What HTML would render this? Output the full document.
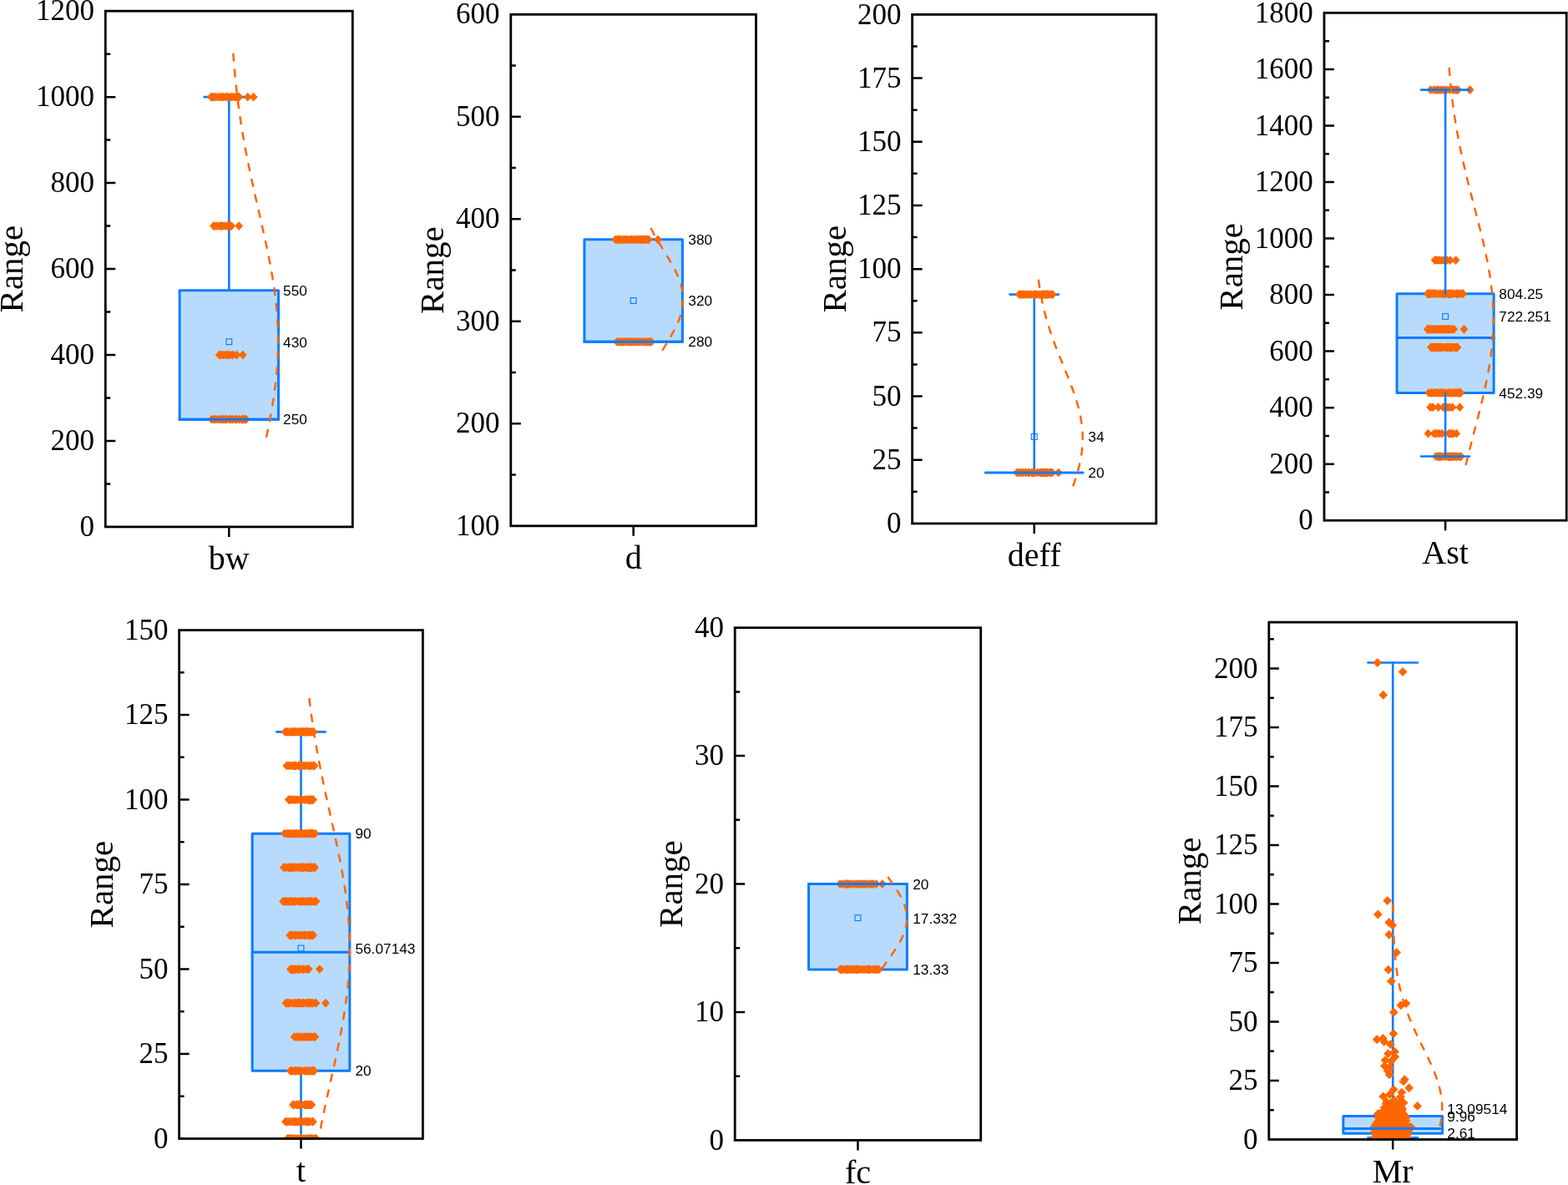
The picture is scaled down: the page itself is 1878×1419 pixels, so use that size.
<!DOCTYPE html>
<html><head><meta charset="utf-8"><title>Box plots</title>
<style>
html,body{margin:0;padding:0;background:#fff;}
body{width:1878px;height:1419px;overflow:hidden;}
svg{display:block;}
.t{font-family:"Liberation Serif","Times New Roman",serif;font-size:35px;text-anchor:end;fill:#000;}
.ti{font-family:"Liberation Serif","Times New Roman",serif;font-size:40px;fill:#000;}
.yt{font-size:41px;}
.v{font-family:"Liberation Sans",Arial,sans-serif;font-size:17.3px;fill:#000;}
</style></head><body>
<svg width="1878" height="1419" viewBox="0 0 1878 1419">
<rect width="1878" height="1419" fill="#fff"/>
<clipPath id="c1"><rect x="126.3" y="13.2" width="296" height="617.7"/></clipPath>
<g clip-path="url(#c1)">
<g stroke="#0A7CFF" stroke-width="2.6" stroke-linecap="round" fill="none"><line x1="274.3" y1="347.79" x2="274.3" y2="116.15"/><line x1="244.7" y1="116.15" x2="303.9" y2="116.15"/></g>
<rect x="215.1" y="347.79" width="118.4" height="154.42" fill="#B8DBFD" stroke="#0A7CFF" stroke-width="3.0" stroke-linejoin="round"/>
<rect x="270.9" y="405.81" width="6.8" height="6.8" fill="none" stroke="#0A7CFF" stroke-width="1.15"/>
<path fill="#FF6600" d="M252.8 110.75L257.7 116.15L252.8 121.55L247.9 116.15ZM254.07 110.75L258.97 116.15L254.07 121.55L249.17 116.15ZM255.36 110.75L260.26 116.15L255.36 121.55L250.46 116.15ZM257.66 110.75L262.56 116.15L257.66 121.55L252.76 116.15ZM260.62 110.75L265.52 116.15L260.62 121.55L255.72 116.15ZM263.44 110.75L268.34 116.15L263.44 121.55L258.54 116.15ZM265.39 110.75L270.29 116.15L265.39 121.55L260.49 116.15ZM267.76 110.75L272.66 116.15L267.76 121.55L262.86 116.15ZM270.48 110.75L275.38 116.15L270.48 121.55L265.58 116.15ZM271.48 110.75L276.38 116.15L271.48 121.55L266.58 116.15ZM273.86 110.75L278.76 116.15L273.86 121.55L268.96 116.15ZM276.85 110.75L281.75 116.15L276.85 121.55L271.95 116.15ZM279.53 110.75L284.43 116.15L279.53 121.55L274.63 116.15ZM282.13 110.75L287.03 116.15L282.13 121.55L277.23 116.15ZM284.07 110.75L288.97 116.15L284.07 121.55L279.17 116.15ZM285.3 110.75L290.2 116.15L285.3 121.55L280.4 116.15ZM286.4 110.75L291.3 116.15L286.4 121.55L281.5 116.15ZM255.9 265.18L260.8 270.57L255.9 275.97L251 270.57ZM257.5 265.18L262.4 270.57L257.5 275.97L252.6 270.57ZM260.22 265.18L265.12 270.57L260.22 275.97L255.32 270.57ZM263.35 265.18L268.25 270.57L263.35 275.97L258.45 270.57ZM265.1 265.18L270 270.57L265.1 275.97L260.2 270.57ZM266.87 265.18L271.77 270.57L266.87 275.97L261.97 270.57ZM269.94 265.18L274.84 270.57L269.94 275.97L265.04 270.57ZM272.48 265.18L277.38 270.57L272.48 275.97L267.58 270.57ZM273.69 265.18L278.59 270.57L273.69 275.97L268.79 270.57ZM274.79 265.18L279.69 270.57L274.79 275.97L269.89 270.57ZM275.95 265.18L280.85 270.57L275.95 275.97L271.05 270.57ZM277.3 265.18L282.2 270.57L277.3 275.97L272.4 270.57ZM253.5 496.81L258.4 502.21L253.5 507.61L248.6 502.21ZM256.24 496.81L261.14 502.21L256.24 507.61L251.34 502.21ZM257.39 496.81L262.29 502.21L257.39 507.61L252.49 502.21ZM260.17 496.81L265.07 502.21L260.17 507.61L255.27 502.21ZM263.32 496.81L268.22 502.21L263.32 507.61L258.42 502.21ZM265.7 496.81L270.6 502.21L265.7 507.61L260.8 502.21ZM267.34 496.81L272.24 502.21L267.34 507.61L262.44 502.21ZM269.46 496.81L274.36 502.21L269.46 507.61L264.56 502.21ZM270.57 496.81L275.47 502.21L270.57 507.61L265.67 502.21ZM271.41 496.81L276.31 502.21L271.41 507.61L266.51 502.21ZM274.54 496.81L279.44 502.21L274.54 507.61L269.64 502.21ZM276.9 496.81L281.8 502.21L276.9 507.61L272 502.21ZM278.96 496.81L283.86 502.21L278.96 507.61L274.06 502.21ZM282 496.81L286.9 502.21L282 507.61L277.1 502.21ZM283.84 496.81L288.74 502.21L283.84 507.61L278.94 502.21ZM286.73 496.81L291.63 502.21L286.73 507.61L281.83 502.21ZM289.52 496.81L294.42 502.21L289.52 507.61L284.62 502.21ZM290.82 496.81L295.72 502.21L290.82 507.61L285.92 502.21ZM292.23 496.81L297.13 502.21L292.23 507.61L287.33 502.21ZM293.73 496.81L298.63 502.21L293.73 507.61L288.83 502.21ZM294.8 496.81L299.7 502.21L294.8 507.61L289.9 502.21ZM262.6 419.6L267.5 425L262.6 430.4L257.7 425ZM265 419.6L269.9 425L265 430.4L260.1 425ZM268 419.6L272.9 425L268 430.4L263.1 425ZM270.7 419.6L275.6 425L270.7 430.4L265.8 425ZM273 419.6L277.9 425L273 430.4L268.1 425ZM275.8 419.6L280.7 425L275.8 430.4L270.9 425ZM279 419.6L283.9 425L279 430.4L274.1 425ZM283.5 419.6L288.4 425L283.5 430.4L278.6 425ZM290.9 419.6L295.8 425L290.9 430.4L286 425ZM296.7 110.75L301.6 116.15L296.7 121.55L291.8 116.15ZM303.7 110.75L308.6 116.15L303.7 121.55L298.8 116.15ZM286.2 265.18L291.1 270.57L286.2 275.97L281.3 270.57Z"/>
<line x1="215.1" y1="502.21" x2="333.5" y2="502.21" stroke="#0A7CFF" stroke-width="3.0" stroke-linecap="round"/>
<polyline points="279.39,64.68 279.56,66.99 279.73,69.31 279.91,71.62 280.1,73.94 280.28,76.26 280.48,78.57 280.67,80.89 280.88,83.21 281.08,85.52 281.3,87.84 281.51,90.16 281.74,92.47 281.97,94.79 282.2,97.1 282.44,99.42 282.68,101.74 282.93,104.05 283.18,106.37 283.44,108.69 283.71,111 283.98,113.32 284.26,115.64 284.54,117.95 284.83,120.27 285.12,122.58 285.42,124.9 285.73,127.22 286.04,129.53 286.35,131.85 286.68,134.17 287.01,136.48 287.34,138.8 287.68,141.12 288.03,143.43 288.38,145.75 288.73,148.06 289.1,150.38 289.47,152.7 289.84,155.01 290.22,157.33 290.61,159.65 291,161.96 291.4,164.28 291.8,166.6 292.21,168.91 292.62,171.23 293.04,173.54 293.47,175.86 293.9,178.18 294.33,180.49 294.77,182.81 295.22,185.13 295.67,187.44 296.13,189.76 296.59,192.08 297.05,194.39 297.52,196.71 297.99,199.02 298.47,201.34 298.95,203.66 299.44,205.97 299.93,208.29 300.42,210.61 300.92,212.92 301.42,215.24 301.92,217.56 302.43,219.87 302.94,222.19 303.46,224.5 303.97,226.82 304.49,229.14 305.01,231.45 305.53,233.77 306.05,236.09 306.58,238.4 307.11,240.72 307.64,243.04 308.17,245.35 308.7,247.67 309.23,249.99 309.76,252.3 310.29,254.62 310.82,256.93 311.35,259.25 311.88,261.57 312.41,263.88 312.94,266.2 313.46,268.52 313.99,270.83 314.51,273.15 315.03,275.47 315.55,277.78 316.06,280.1 316.58,282.41 317.09,284.73 317.59,287.05 318.09,289.36 318.59,291.68 319.09,294 319.57,296.31 320.06,298.63 320.54,300.95 321.01,303.26 321.48,305.58 321.94,307.89 322.4,310.21 322.85,312.53 323.29,314.84 323.73,317.16 324.16,319.48 324.58,321.79 325,324.11 325.4,326.43 325.8,328.74 326.19,331.06 326.57,333.37 326.94,335.69 327.31,338.01 327.66,340.32 328,342.64 328.34,344.96 328.66,347.27 328.98,349.59 329.28,351.91 329.57,354.22 329.85,356.54 330.13,358.85 330.39,361.17 330.64,363.49 330.87,365.8 331.1,368.12 331.31,370.44 331.51,372.75 331.7,375.07 331.88,377.39 332.05,379.7 332.2,382.02 332.34,384.33 332.47,386.65 332.59,388.97 332.69,391.28 332.78,393.6 332.86,395.92 332.92,398.23 332.97,400.55 333.01,402.87 333.04,405.18 333.05,407.5 333.05,409.81 333.03,412.13 333.01,414.45 332.97,416.76 332.91,419.08 332.85,421.4 332.77,423.71 332.68,426.03 332.57,428.35 332.46,430.66 332.33,432.98 332.19,435.3 332.03,437.61 331.86,439.93 331.68,442.24 331.49,444.56 331.29,446.88 331.07,449.19 330.85,451.51 330.61,453.83 330.36,456.14 330.1,458.46 329.82,460.78 329.54,463.09 329.25,465.41 328.94,467.72 328.63,470.04 328.3,472.36 327.97,474.67 327.62,476.99 327.27,479.31 326.9,481.62 326.53,483.94 326.15,486.26 325.76,488.57 325.36,490.89 324.95,493.2 324.54,495.52 324.11,497.84 323.68,500.15 323.25,502.47 322.8,504.79 322.35,507.1 321.89,509.42 321.43,511.74 320.96,514.05 320.49,516.37 320.01,518.68 319.52,521 319.03,523.32 318.54,525.63 318.04,527.95" fill="none" stroke="#FF6600" stroke-width="2.5" stroke-dasharray="8 11" stroke-linecap="round" stroke-linejoin="round"/>
</g>
<text x="339.1" y="353.89" class="v">550</text>
<text x="339.1" y="415.66" class="v">430</text>
<text x="339.1" y="508.31" class="v">250</text>
<rect x="126.3" y="13.2" width="296" height="617.7" fill="none" stroke="#000" stroke-width="2.8" stroke-linejoin="miter" stroke-linecap="square"/>
<path d="M126.3 579.42H132.3M126.3 527.95H138.3M126.3 476.48H132.3M126.3 425H138.3M126.3 373.52H132.3M126.3 322.05H138.3M126.3 270.57H132.3M126.3 219.1H138.3M126.3 167.62H132.3M126.3 116.15H138.3M126.3 64.68H132.3M274.3 630.9V642.9" stroke="#000" stroke-width="2.5" fill="none"/>
<text x="113.1" y="642" class="t">0</text>
<text x="113.1" y="539.05" class="t">200</text>
<text x="113.1" y="436.1" class="t">400</text>
<text x="113.1" y="333.15" class="t">600</text>
<text x="113.1" y="230.2" class="t">800</text>
<text x="113.1" y="127.25" class="t">1000</text>
<text x="113.1" y="24.3" class="t">1200</text>
<text x="27" y="322.05" class="ti yt" transform="rotate(-90 27 322.05)" text-anchor="middle">Range</text>
<text x="274.3" y="682.3" class="ti" text-anchor="middle">bw</text>
<clipPath id="c2"><rect x="611.8" y="17.3" width="293.7" height="612.5"/></clipPath>
<g clip-path="url(#c2)">
<g stroke="#0A7CFF" stroke-width="2.6" stroke-linecap="round" fill="none"></g>
<rect x="699.91" y="286.8" width="117.48" height="122.5" fill="#B8DBFD" stroke="#0A7CFF" stroke-width="3.0" stroke-linejoin="round"/>
<rect x="755.25" y="356.55" width="6.8" height="6.8" fill="none" stroke="#0A7CFF" stroke-width="1.15"/>
<path fill="#FF6600" d="M737.1 281.4L742 286.8L737.1 292.2L732.2 286.8ZM739.31 281.4L744.21 286.8L739.31 292.2L734.41 286.8ZM740.73 281.4L745.63 286.8L740.73 292.2L735.83 286.8ZM742.54 281.4L747.44 286.8L742.54 292.2L737.64 286.8ZM743.65 281.4L748.55 286.8L743.65 292.2L738.75 286.8ZM746.63 281.4L751.53 286.8L746.63 292.2L741.73 286.8ZM748.28 281.4L753.18 286.8L748.28 292.2L743.38 286.8ZM750.18 281.4L755.08 286.8L750.18 292.2L745.28 286.8ZM752.38 281.4L757.28 286.8L752.38 292.2L747.48 286.8ZM755.35 281.4L760.25 286.8L755.35 292.2L750.45 286.8ZM757.16 281.4L762.06 286.8L757.16 292.2L752.26 286.8ZM760.17 281.4L765.07 286.8L760.17 292.2L755.27 286.8ZM762.17 281.4L767.07 286.8L762.17 292.2L757.27 286.8ZM764.25 281.4L769.15 286.8L764.25 292.2L759.35 286.8ZM766.3 281.4L771.2 286.8L766.3 292.2L761.4 286.8ZM767.15 281.4L772.05 286.8L767.15 292.2L762.25 286.8ZM769 281.4L773.9 286.8L769 292.2L764.1 286.8ZM770.24 281.4L775.14 286.8L770.24 292.2L765.34 286.8ZM771.05 281.4L775.95 286.8L771.05 292.2L766.15 286.8ZM773.77 281.4L778.67 286.8L773.77 292.2L768.87 286.8ZM774.98 281.4L779.88 286.8L774.98 292.2L770.08 286.8ZM776.8 281.4L781.7 286.8L776.8 292.2L771.9 286.8ZM739.1 403.9L744 409.3L739.1 414.7L734.2 409.3ZM741.64 403.9L746.54 409.3L741.64 414.7L736.74 409.3ZM743.78 403.9L748.68 409.3L743.78 414.7L738.88 409.3ZM745.36 403.9L750.26 409.3L745.36 414.7L740.46 409.3ZM747.4 403.9L752.3 409.3L747.4 414.7L742.5 409.3ZM749.54 403.9L754.44 409.3L749.54 414.7L744.64 409.3ZM752.22 403.9L757.12 409.3L752.22 414.7L747.32 409.3ZM753.27 403.9L758.17 409.3L753.27 414.7L748.37 409.3ZM755.42 403.9L760.32 409.3L755.42 414.7L750.52 409.3ZM756.81 403.9L761.71 409.3L756.81 414.7L751.91 409.3ZM758.28 403.9L763.18 409.3L758.28 414.7L753.38 409.3ZM760.93 403.9L765.83 409.3L760.93 414.7L756.03 409.3ZM762.95 403.9L767.85 409.3L762.95 414.7L758.05 409.3ZM765.1 403.9L770 409.3L765.1 414.7L760.2 409.3ZM767.72 403.9L772.62 409.3L767.72 414.7L762.82 409.3ZM770.71 403.9L775.61 409.3L770.71 414.7L765.81 409.3ZM772.58 403.9L777.48 409.3L772.58 414.7L767.68 409.3ZM774.85 403.9L779.75 409.3L774.85 414.7L769.95 409.3ZM776.86 403.9L781.76 409.3L776.86 414.7L771.96 409.3ZM778.89 403.9L783.79 409.3L778.89 414.7L773.99 409.3ZM780.1 403.9L785 409.3L780.1 414.7L775.2 409.3ZM788 281.4L792.9 286.8L788 292.2L783.1 286.8Z"/>
<line x1="699.91" y1="409.3" x2="817.39" y2="409.3" stroke="#0A7CFF" stroke-width="3.0" stroke-linecap="round"/>
<polyline points="779.82,273.94 780.21,274.68 780.6,275.41 780.99,276.15 781.38,276.89 781.78,277.63 782.18,278.37 782.58,279.1 782.99,279.84 783.4,280.58 783.81,281.32 784.23,282.06 784.65,282.79 785.07,283.53 785.49,284.27 785.92,285.01 786.35,285.75 786.78,286.48 787.21,287.22 787.65,287.96 788.08,288.7 788.52,289.44 788.96,290.17 789.41,290.91 789.85,291.65 790.3,292.39 790.74,293.13 791.19,293.87 791.64,294.6 792.09,295.34 792.54,296.08 792.99,296.82 793.45,297.56 793.9,298.29 794.35,299.03 794.8,299.77 795.26,300.51 795.71,301.25 796.16,301.98 796.61,302.72 797.07,303.46 797.52,304.2 797.97,304.94 798.42,305.67 798.86,306.41 799.31,307.15 799.75,307.89 800.2,308.63 800.64,309.36 801.08,310.1 801.51,310.84 801.95,311.58 802.38,312.32 802.81,313.05 803.24,313.79 803.66,314.53 804.08,315.27 804.5,316.01 804.91,316.75 805.32,317.48 805.73,318.22 806.13,318.96 806.53,319.7 806.92,320.44 807.31,321.17 807.7,321.91 808.08,322.65 808.45,323.39 808.82,324.13 809.19,324.86 809.55,325.6 809.9,326.34 810.25,327.08 810.59,327.82 810.93,328.55 811.26,329.29 811.59,330.03 811.9,330.77 812.21,331.51 812.52,332.24 812.82,332.98 813.11,333.72 813.39,334.46 813.67,335.2 813.94,335.93 814.2,336.67 814.46,337.41 814.7,338.15 814.94,338.89 815.17,339.63 815.4,340.36 815.61,341.1 815.82,341.84 816.02,342.58 816.21,343.32 816.39,344.05 816.56,344.79 816.73,345.53 816.88,346.27 817.03,347.01 817.17,347.74 817.3,348.48 817.42,349.22 817.53,349.96 817.63,350.7 817.73,351.43 817.81,352.17 817.89,352.91 817.95,353.65 818.01,354.39 818.05,355.12 818.09,355.86 818.12,356.6 818.14,357.34 818.15,358.08 818.15,358.81 818.14,359.55 818.12,360.29 818.09,361.03 818.06,361.77 818.01,362.5 817.95,363.24 817.89,363.98 817.81,364.72 817.73,365.46 817.64,366.2 817.54,366.93 817.42,367.67 817.3,368.41 817.18,369.15 817.04,369.89 816.89,370.62 816.74,371.36 816.57,372.1 816.4,372.84 816.22,373.58 816.03,374.31 815.83,375.05 815.62,375.79 815.41,376.53 815.18,377.27 814.95,378 814.71,378.74 814.47,379.48 814.21,380.22 813.95,380.96 813.68,381.69 813.41,382.43 813.12,383.17 812.83,383.91 812.53,384.65 812.23,385.38 811.92,386.12 811.6,386.86 811.28,387.6 810.95,388.34 810.61,389.08 810.27,389.81 809.92,390.55 809.56,391.29 809.2,392.03 808.84,392.77 808.47,393.5 808.09,394.24 807.71,394.98 807.33,395.72 806.94,396.46 806.55,397.19 806.15,397.93 805.75,398.67 805.34,399.41 804.93,400.15 804.52,400.88 804.1,401.62 803.68,402.36 803.26,403.1 802.83,403.84 802.4,404.57 801.97,405.31 801.53,406.05 801.1,406.79 800.66,407.53 800.22,408.26 799.77,409 799.33,409.74 798.88,410.48 798.44,411.22 797.99,411.96 797.54,412.69 797.09,413.43 796.64,414.17 796.18,414.91 795.73,415.65 795.28,416.38 794.83,417.12 794.37,417.86 793.92,418.6 793.47,419.34 793.01,420.07 792.56,420.81 792.11,421.55" fill="none" stroke="#FF6600" stroke-width="2.5" stroke-dasharray="8 11" stroke-linecap="round" stroke-linejoin="round"/>
</g>
<text x="824.3" y="292.9" class="v">380</text>
<text x="824.3" y="366.4" class="v">320</text>
<text x="824.3" y="415.4" class="v">280</text>
<rect x="611.8" y="17.3" width="293.7" height="612.5" fill="none" stroke="#000" stroke-width="2.8" stroke-linejoin="miter" stroke-linecap="square"/>
<path d="M611.8 568.55H617.8M611.8 507.3H623.8M611.8 446.05H617.8M611.8 384.8H623.8M611.8 323.55H617.8M611.8 262.3H623.8M611.8 201.05H617.8M611.8 139.8H623.8M611.8 78.55H617.8M758.65 629.8V641.8" stroke="#000" stroke-width="2.5" fill="none"/>
<text x="598.6" y="640.9" class="t">100</text>
<text x="598.6" y="518.4" class="t">200</text>
<text x="598.6" y="395.9" class="t">300</text>
<text x="598.6" y="273.4" class="t">400</text>
<text x="598.6" y="150.9" class="t">500</text>
<text x="598.6" y="28.4" class="t">600</text>
<text x="530.9" y="323.55" class="ti yt" transform="rotate(-90 530.9 323.55)" text-anchor="middle">Range</text>
<text x="758.65" y="681.2" class="ti" text-anchor="middle">d</text>
<clipPath id="c3"><rect x="1092.6" y="17.4" width="292.2" height="609.5"/></clipPath>
<g clip-path="url(#c3)">
<g stroke="#0A7CFF" stroke-width="2.6" stroke-linecap="round" fill="none"><line x1="1238.7" y1="565.95" x2="1238.7" y2="352.62"/><line x1="1209.48" y1="352.62" x2="1267.92" y2="352.62"/></g>
<rect x="1235.3" y="519.53" width="6.8" height="6.8" fill="none" stroke="#0A7CFF" stroke-width="1.15"/>
<path fill="#FF6600" d="M1220.7 347.22L1225.6 352.62L1220.7 358.02L1215.8 352.62ZM1222.59 347.22L1227.49 352.62L1222.59 358.02L1217.69 352.62ZM1224.67 347.22L1229.57 352.62L1224.67 358.02L1219.77 352.62ZM1226.61 347.22L1231.51 352.62L1226.61 358.02L1221.71 352.62ZM1229.67 347.22L1234.57 352.62L1229.67 358.02L1224.77 352.62ZM1232.15 347.22L1237.05 352.62L1232.15 358.02L1227.25 352.62ZM1235.05 347.22L1239.95 352.62L1235.05 358.02L1230.15 352.62ZM1238.12 347.22L1243.02 352.62L1238.12 358.02L1233.22 352.62ZM1239.54 347.22L1244.44 352.62L1239.54 358.02L1234.64 352.62ZM1241.68 347.22L1246.58 352.62L1241.68 358.02L1236.78 352.62ZM1244.75 347.22L1249.65 352.62L1244.75 358.02L1239.85 352.62ZM1247.56 347.22L1252.46 352.62L1247.56 358.02L1242.66 352.62ZM1248.69 347.22L1253.59 352.62L1248.69 358.02L1243.79 352.62ZM1249.78 347.22L1254.68 352.62L1249.78 358.02L1244.88 352.62ZM1251.64 347.22L1256.54 352.62L1251.64 358.02L1246.74 352.62ZM1252.62 347.22L1257.52 352.62L1252.62 358.02L1247.72 352.62ZM1253.99 347.22L1258.89 352.62L1253.99 358.02L1249.09 352.62ZM1254.97 347.22L1259.87 352.62L1254.97 358.02L1250.07 352.62ZM1257.38 347.22L1262.28 352.62L1257.38 358.02L1252.48 352.62ZM1260.06 347.22L1264.96 352.62L1260.06 358.02L1255.16 352.62ZM1260.7 347.22L1265.6 352.62L1260.7 358.02L1255.8 352.62ZM1218.1 560.55L1223 565.95L1218.1 571.35L1213.2 565.95ZM1219.27 560.55L1224.17 565.95L1219.27 571.35L1214.37 565.95ZM1221.79 560.55L1226.69 565.95L1221.79 571.35L1216.89 565.95ZM1224.17 560.55L1229.07 565.95L1224.17 571.35L1219.27 565.95ZM1225.32 560.55L1230.22 565.95L1225.32 571.35L1220.42 565.95ZM1228.24 560.55L1233.14 565.95L1228.24 571.35L1223.34 565.95ZM1231.36 560.55L1236.26 565.95L1231.36 571.35L1226.46 565.95ZM1232.69 560.55L1237.59 565.95L1232.69 571.35L1227.79 565.95ZM1235.77 560.55L1240.67 565.95L1235.77 571.35L1230.87 565.95ZM1237.53 560.55L1242.43 565.95L1237.53 571.35L1232.63 565.95ZM1239.5 560.55L1244.4 565.95L1239.5 571.35L1234.6 565.95ZM1242.67 560.55L1247.57 565.95L1242.67 571.35L1237.77 565.95ZM1245.47 560.55L1250.37 565.95L1245.47 571.35L1240.57 565.95ZM1246.66 560.55L1251.56 565.95L1246.66 571.35L1241.76 565.95ZM1248.49 560.55L1253.39 565.95L1248.49 571.35L1243.59 565.95ZM1250.53 560.55L1255.43 565.95L1250.53 571.35L1245.63 565.95ZM1252.14 560.55L1257.04 565.95L1252.14 571.35L1247.24 565.95ZM1253.41 560.55L1258.31 565.95L1253.41 571.35L1248.51 565.95ZM1254.98 560.55L1259.88 565.95L1254.98 571.35L1250.08 565.95ZM1257.51 560.55L1262.41 565.95L1257.51 571.35L1252.61 565.95ZM1258.36 560.55L1263.26 565.95L1258.36 571.35L1253.46 565.95ZM1260.1 560.55L1265 565.95L1260.1 571.35L1255.2 565.95ZM1267.8 560.55L1272.7 565.95L1267.8 571.35L1262.9 565.95Z"/>
<line x1="1180.26" y1="565.95" x2="1297.14" y2="565.95" stroke="#0A7CFF" stroke-width="3.0" stroke-linecap="round"/>
<polyline points="1243.92,335.86 1244.08,337.09 1244.25,338.32 1244.43,339.55 1244.61,340.78 1244.79,342.01 1244.97,343.24 1245.17,344.47 1245.36,345.7 1245.56,346.93 1245.77,348.16 1245.98,349.39 1246.19,350.62 1246.41,351.85 1246.63,353.08 1246.86,354.31 1247.09,355.54 1247.33,356.77 1247.58,358 1247.82,359.23 1248.08,360.46 1248.34,361.69 1248.6,362.92 1248.87,364.15 1249.14,365.38 1249.42,366.61 1249.7,367.84 1249.99,369.06 1250.29,370.29 1250.59,371.52 1250.89,372.75 1251.2,373.98 1251.52,375.21 1251.84,376.44 1252.16,377.67 1252.49,378.9 1252.83,380.13 1253.17,381.36 1253.52,382.59 1253.87,383.82 1254.23,385.05 1254.59,386.28 1254.96,387.51 1255.33,388.74 1255.71,389.97 1256.09,391.2 1256.48,392.43 1256.88,393.66 1257.27,394.89 1257.68,396.12 1258.08,397.35 1258.5,398.58 1258.91,399.81 1259.33,401.04 1259.76,402.27 1260.19,403.5 1260.63,404.73 1261.06,405.95 1261.51,407.18 1261.95,408.41 1262.41,409.64 1262.86,410.87 1263.32,412.1 1263.78,413.33 1264.25,414.56 1264.72,415.79 1265.19,417.02 1265.66,418.25 1266.14,419.48 1266.62,420.71 1267.11,421.94 1267.59,423.17 1268.08,424.4 1268.57,425.63 1269.06,426.86 1269.56,428.09 1270.05,429.32 1270.55,430.55 1271.05,431.78 1271.55,433.01 1272.05,434.24 1272.55,435.47 1273.05,436.7 1273.56,437.93 1274.06,439.16 1274.56,440.39 1275.06,441.62 1275.56,442.84 1276.07,444.07 1276.57,445.3 1277.06,446.53 1277.56,447.76 1278.06,448.99 1278.55,450.22 1279.04,451.45 1279.53,452.68 1280.02,453.91 1280.51,455.14 1280.99,456.37 1281.47,457.6 1281.94,458.83 1282.41,460.06 1282.88,461.29 1283.34,462.52 1283.8,463.75 1284.26,464.98 1284.71,466.21 1285.15,467.44 1285.59,468.67 1286.02,469.9 1286.45,471.13 1286.88,472.36 1287.29,473.59 1287.7,474.82 1288.1,476.05 1288.5,477.28 1288.89,478.51 1289.27,479.73 1289.65,480.96 1290.01,482.19 1290.37,483.42 1290.72,484.65 1291.06,485.88 1291.4,487.11 1291.72,488.34 1292.04,489.57 1292.35,490.8 1292.65,492.03 1292.93,493.26 1293.21,494.49 1293.48,495.72 1293.74,496.95 1293.99,498.18 1294.23,499.41 1294.46,500.64 1294.68,501.87 1294.88,503.1 1295.08,504.33 1295.27,505.56 1295.44,506.79 1295.61,508.02 1295.76,509.25 1295.9,510.48 1296.03,511.71 1296.15,512.94 1296.26,514.17 1296.35,515.4 1296.44,516.62 1296.51,517.85 1296.57,519.08 1296.62,520.31 1296.66,521.54 1296.68,522.77 1296.7,524 1296.7,525.23 1296.69,526.46 1296.67,527.69 1296.63,528.92 1296.59,530.15 1296.53,531.38 1296.46,532.61 1296.38,533.84 1296.29,535.07 1296.19,536.3 1296.07,537.53 1295.94,538.76 1295.81,539.99 1295.66,541.22 1295.5,542.45 1295.32,543.68 1295.14,544.91 1294.95,546.14 1294.74,547.37 1294.53,548.6 1294.3,549.83 1294.07,551.06 1293.82,552.29 1293.56,553.51 1293.3,554.74 1293.02,555.97 1292.74,557.2 1292.44,558.43 1292.14,559.66 1291.82,560.89 1291.5,562.12 1291.17,563.35 1290.83,564.58 1290.48,565.81 1290.12,567.04 1289.76,568.27 1289.39,569.5 1289.01,570.73 1288.62,571.96 1288.23,573.19 1287.83,574.42 1287.42,575.65 1287.01,576.88 1286.58,578.11 1286.16,579.34 1285.73,580.57 1285.29,581.8" fill="none" stroke="#FF6600" stroke-width="2.5" stroke-dasharray="8 11" stroke-linecap="round" stroke-linejoin="round"/>
</g>
<text x="1303.3" y="529.38" class="v">34</text>
<text x="1303.3" y="572.05" class="v">20</text>
<rect x="1092.6" y="17.4" width="292.2" height="609.5" fill="none" stroke="#000" stroke-width="2.8" stroke-linejoin="miter" stroke-linecap="square"/>
<path d="M1092.6 588.81H1098.6M1092.6 550.71H1104.6M1092.6 512.62H1098.6M1092.6 474.52H1104.6M1092.6 436.43H1098.6M1092.6 398.34H1104.6M1092.6 360.24H1098.6M1092.6 322.15H1104.6M1092.6 284.06H1098.6M1092.6 245.96H1104.6M1092.6 207.87H1098.6M1092.6 169.77H1104.6M1092.6 131.68H1098.6M1092.6 93.59H1104.6M1092.6 55.49H1098.6M1238.7 626.9V638.9" stroke="#000" stroke-width="2.5" fill="none"/>
<text x="1079.4" y="638" class="t">0</text>
<text x="1079.4" y="561.81" class="t">25</text>
<text x="1079.4" y="485.62" class="t">50</text>
<text x="1079.4" y="409.44" class="t">75</text>
<text x="1079.4" y="333.25" class="t">100</text>
<text x="1079.4" y="257.06" class="t">125</text>
<text x="1079.4" y="180.87" class="t">150</text>
<text x="1079.4" y="104.69" class="t">175</text>
<text x="1079.4" y="28.5" class="t">200</text>
<text x="1012.6" y="322.15" class="ti yt" transform="rotate(-90 1012.6 322.15)" text-anchor="middle">Range</text>
<text x="1238.7" y="678.3" class="ti" text-anchor="middle">deff</text>
<clipPath id="c4"><rect x="1586" y="15.4" width="290.2" height="607.8"/></clipPath>
<g clip-path="url(#c4)">
<rect x="1673.06" y="351.63" width="116.08" height="118.81" fill="#B8DBFD" stroke="#0A7CFF" stroke-width="3.0" stroke-linejoin="round"/>
<rect x="1727.7" y="375.57" width="6.8" height="6.8" fill="none" stroke="#0A7CFF" stroke-width="1.15"/>
<path fill="#FF6600" d="M1709.7 346.23L1714.6 351.63L1709.7 357.03L1704.8 351.63ZM1711.56 346.23L1716.46 351.63L1711.56 357.03L1706.66 351.63ZM1712.4 346.23L1717.3 351.63L1712.4 357.03L1707.5 351.63ZM1714 346.23L1718.9 351.63L1714 357.03L1709.1 351.63ZM1716.29 346.23L1721.19 351.63L1716.29 357.03L1711.39 351.63ZM1718.32 346.23L1723.22 351.63L1718.32 357.03L1713.42 351.63ZM1719.28 346.23L1724.18 351.63L1719.28 357.03L1714.38 351.63ZM1722.44 346.23L1727.34 351.63L1722.44 357.03L1717.54 351.63ZM1725.13 346.23L1730.03 351.63L1725.13 357.03L1720.23 351.63ZM1728.27 346.23L1733.17 351.63L1728.27 357.03L1723.37 351.63ZM1729.32 346.23L1734.22 351.63L1729.32 357.03L1724.42 351.63ZM1730.75 346.23L1735.65 351.63L1730.75 357.03L1725.85 351.63ZM1731.65 346.23L1736.55 351.63L1731.65 357.03L1726.75 351.63ZM1734.32 346.23L1739.22 351.63L1734.32 357.03L1729.42 351.63ZM1735.77 346.23L1740.67 351.63L1735.77 357.03L1730.87 351.63ZM1736.88 346.23L1741.78 351.63L1736.88 357.03L1731.98 351.63ZM1738.69 346.23L1743.59 351.63L1738.69 357.03L1733.79 351.63ZM1741.68 346.23L1746.58 351.63L1741.68 357.03L1736.78 351.63ZM1744.45 346.23L1749.35 351.63L1744.45 357.03L1739.55 351.63ZM1745.87 346.23L1750.77 351.63L1745.87 357.03L1740.97 351.63ZM1747.02 346.23L1751.92 351.63L1747.02 357.03L1742.12 351.63ZM1750.03 346.23L1754.93 351.63L1750.03 357.03L1745.13 351.63ZM1752.2 346.23L1757.1 351.63L1752.2 357.03L1747.3 351.63ZM1752.3 346.23L1757.2 351.63L1752.3 357.03L1747.4 351.63ZM1709.7 388.86L1714.6 394.26L1709.7 399.66L1704.8 394.26ZM1710.71 388.86L1715.61 394.26L1710.71 399.66L1705.81 394.26ZM1711.65 388.86L1716.55 394.26L1711.65 399.66L1706.75 394.26ZM1714.1 388.86L1719 394.26L1714.1 399.66L1709.2 394.26ZM1715.93 388.86L1720.83 394.26L1715.93 399.66L1711.03 394.26ZM1716.9 388.86L1721.8 394.26L1716.9 399.66L1712 394.26ZM1719.95 388.86L1724.85 394.26L1719.95 399.66L1715.05 394.26ZM1722.27 388.86L1727.17 394.26L1722.27 399.66L1717.37 394.26ZM1725 388.86L1729.9 394.26L1725 399.66L1720.1 394.26ZM1726 388.86L1730.9 394.26L1726 399.66L1721.1 394.26ZM1728.85 388.86L1733.75 394.26L1728.85 399.66L1723.95 394.26ZM1729.81 388.86L1734.71 394.26L1729.81 399.66L1724.91 394.26ZM1732.68 388.86L1737.58 394.26L1732.68 399.66L1727.78 394.26ZM1734.57 388.86L1739.47 394.26L1734.57 399.66L1729.67 394.26ZM1736.19 388.86L1741.09 394.26L1736.19 399.66L1731.29 394.26ZM1738.31 388.86L1743.21 394.26L1738.31 399.66L1733.41 394.26ZM1741.3 388.86L1746.2 394.26L1741.3 399.66L1736.4 394.26ZM1713.9 410.47L1718.8 415.87L1713.9 421.27L1709 415.87ZM1715.34 410.47L1720.24 415.87L1715.34 421.27L1710.44 415.87ZM1716.45 410.47L1721.35 415.87L1716.45 421.27L1711.55 415.87ZM1718.52 410.47L1723.42 415.87L1718.52 421.27L1713.62 415.87ZM1719.89 410.47L1724.79 415.87L1719.89 421.27L1714.99 415.87ZM1720.95 410.47L1725.85 415.87L1720.95 421.27L1716.05 415.87ZM1722.14 410.47L1727.04 415.87L1722.14 421.27L1717.24 415.87ZM1723.06 410.47L1727.96 415.87L1723.06 421.27L1718.16 415.87ZM1724.35 410.47L1729.25 415.87L1724.35 421.27L1719.45 415.87ZM1725.89 410.47L1730.79 415.87L1725.89 421.27L1720.99 415.87ZM1727.43 410.47L1732.33 415.87L1727.43 421.27L1722.53 415.87ZM1730.05 410.47L1734.95 415.87L1730.05 421.27L1725.15 415.87ZM1731.54 410.47L1736.44 415.87L1731.54 421.27L1726.64 415.87ZM1733.54 410.47L1738.44 415.87L1733.54 421.27L1728.64 415.87ZM1734.77 410.47L1739.67 415.87L1734.77 421.27L1729.87 415.87ZM1736.4 410.47L1741.3 415.87L1736.4 421.27L1731.5 415.87ZM1737.25 410.47L1742.15 415.87L1737.25 421.27L1732.35 415.87ZM1738.65 410.47L1743.55 415.87L1738.65 421.27L1733.75 415.87ZM1739.49 410.47L1744.39 415.87L1739.49 421.27L1734.59 415.87ZM1742.05 410.47L1746.95 415.87L1742.05 421.27L1737.15 415.87ZM1744.17 410.47L1749.07 415.87L1744.17 421.27L1739.27 415.87ZM1745.42 410.47L1750.32 415.87L1745.42 421.27L1740.52 415.87ZM1745.6 410.47L1750.5 415.87L1745.6 421.27L1740.7 415.87ZM1711.4 465.04L1716.3 470.44L1711.4 475.84L1706.5 470.44ZM1714.44 465.04L1719.34 470.44L1714.44 475.84L1709.54 470.44ZM1715.5 465.04L1720.4 470.44L1715.5 475.84L1710.6 470.44ZM1718.26 465.04L1723.16 470.44L1718.26 475.84L1713.36 470.44ZM1720.1 465.04L1725 470.44L1720.1 475.84L1715.2 470.44ZM1722.09 465.04L1726.99 470.44L1722.09 475.84L1717.19 470.44ZM1724.89 465.04L1729.79 470.44L1724.89 475.84L1719.99 470.44ZM1726.64 465.04L1731.54 470.44L1726.64 475.84L1721.74 470.44ZM1728.65 465.04L1733.55 470.44L1728.65 475.84L1723.75 470.44ZM1731.1 465.04L1736 470.44L1731.1 475.84L1726.2 470.44ZM1734.26 465.04L1739.16 470.44L1734.26 475.84L1729.36 470.44ZM1735.88 465.04L1740.78 470.44L1735.88 475.84L1730.98 470.44ZM1738.68 465.04L1743.58 470.44L1738.68 475.84L1733.78 470.44ZM1741.18 465.04L1746.08 470.44L1741.18 475.84L1736.28 470.44ZM1743.5 465.04L1748.4 470.44L1743.5 475.84L1738.6 470.44ZM1745.27 465.04L1750.17 470.44L1745.27 475.84L1740.37 470.44ZM1746.91 465.04L1751.81 470.44L1746.91 475.84L1742.01 470.44ZM1747.84 465.04L1752.74 470.44L1747.84 475.84L1742.94 470.44ZM1748.95 465.04L1753.85 470.44L1748.95 475.84L1744.05 470.44ZM1749.5 465.04L1754.4 470.44L1749.5 475.84L1744.6 470.44ZM1719.9 541.15L1724.8 546.55L1719.9 551.95L1715 546.55ZM1722.48 541.15L1727.38 546.55L1722.48 551.95L1717.58 546.55ZM1723.89 541.15L1728.79 546.55L1723.89 551.95L1718.99 546.55ZM1725.08 541.15L1729.98 546.55L1725.08 551.95L1720.18 546.55ZM1726.09 541.15L1730.99 546.55L1726.09 551.95L1721.19 546.55ZM1728.91 541.15L1733.81 546.55L1728.91 551.95L1724.01 546.55ZM1731.79 541.15L1736.69 546.55L1731.79 551.95L1726.89 546.55ZM1734.2 541.15L1739.1 546.55L1734.2 551.95L1729.3 546.55ZM1735.68 541.15L1740.58 546.55L1735.68 551.95L1730.78 546.55ZM1737.06 541.15L1741.96 546.55L1737.06 551.95L1732.16 546.55ZM1738.57 541.15L1743.47 546.55L1738.57 551.95L1733.67 546.55ZM1740.47 541.15L1745.37 546.55L1740.47 551.95L1735.57 546.55ZM1741.65 541.15L1746.55 546.55L1741.65 551.95L1736.75 546.55ZM1743.52 541.15L1748.42 546.55L1743.52 551.95L1738.62 546.55ZM1744.95 541.15L1749.85 546.55L1744.95 551.95L1740.05 546.55ZM1748.06 541.15L1752.96 546.55L1748.06 551.95L1743.16 546.55ZM1749.8 541.15L1754.7 546.55L1749.8 551.95L1744.9 546.55ZM1713.5 102.18L1718.4 107.58L1713.5 112.98L1708.6 107.58ZM1717.2 102.18L1722.1 107.58L1717.2 112.98L1712.3 107.58ZM1720.6 102.18L1725.5 107.58L1720.6 112.98L1715.7 107.58ZM1723 102.18L1727.9 107.58L1723 112.98L1718.1 107.58ZM1726 102.18L1730.9 107.58L1726 112.98L1721.1 107.58ZM1729 102.18L1733.9 107.58L1729 112.98L1724.1 107.58ZM1732.5 102.18L1737.4 107.58L1732.5 112.98L1727.6 107.58ZM1736.5 102.18L1741.4 107.58L1736.5 112.98L1731.6 107.58ZM1740.2 102.18L1745.1 107.58L1740.2 112.98L1735.3 107.58ZM1742.5 102.18L1747.4 107.58L1742.5 112.98L1737.6 107.58ZM1744.4 102.18L1749.3 107.58L1744.4 112.98L1739.5 107.58ZM1746.2 102.18L1751.1 107.58L1746.2 112.98L1741.3 107.58ZM1718.6 306.13L1723.5 311.53L1718.6 316.93L1713.7 311.53ZM1721 306.13L1725.9 311.53L1721 316.93L1716.1 311.53ZM1724 306.13L1728.9 311.53L1724 316.93L1719.1 311.53ZM1727 306.13L1731.9 311.53L1727 316.93L1722.1 311.53ZM1730 306.13L1734.9 311.53L1730 316.93L1725.1 311.53ZM1733 306.13L1737.9 311.53L1733 316.93L1728.1 311.53ZM1736.8 306.13L1741.7 311.53L1736.8 316.93L1731.9 311.53ZM1743.6 306.13L1748.5 311.53L1743.6 316.93L1738.7 311.53ZM1713.2 482.23L1718.1 487.63L1713.2 493.03L1708.3 487.63ZM1716.1 482.23L1721 487.63L1716.1 493.03L1711.2 487.63ZM1722.5 482.23L1727.4 487.63L1722.5 493.03L1717.6 487.63ZM1728.6 482.23L1733.5 487.63L1728.6 493.03L1723.7 487.63ZM1733 482.23L1737.9 487.63L1733 493.03L1728.1 487.63ZM1736 482.23L1740.9 487.63L1736 493.03L1731.1 487.63ZM1739.6 482.23L1744.5 487.63L1739.6 493.03L1734.7 487.63ZM1748.4 482.23L1753.3 487.63L1748.4 493.03L1743.5 487.63ZM1710.6 513.8L1715.5 519.2L1710.6 524.6L1705.7 519.2ZM1717.6 513.8L1722.5 519.2L1717.6 524.6L1712.7 519.2ZM1720.5 513.8L1725.4 519.2L1720.5 524.6L1715.6 519.2ZM1723.5 513.8L1728.4 519.2L1723.5 524.6L1718.6 519.2ZM1727.1 513.8L1732 519.2L1727.1 524.6L1722.2 519.2ZM1735.2 513.8L1740.1 519.2L1735.2 524.6L1730.3 519.2ZM1737.8 513.8L1742.7 519.2L1737.8 524.6L1732.9 519.2ZM1740.3 513.8L1745.2 519.2L1740.3 524.6L1735.4 519.2ZM1744.3 513.8L1749.2 519.2L1744.3 524.6L1739.4 519.2ZM1760.6 102.18L1765.5 107.58L1760.6 112.98L1755.7 107.58ZM1753.5 388.86L1758.4 394.26L1753.5 399.66L1748.6 394.26Z"/>
<g stroke="#0A7CFF" stroke-width="2.6" stroke-linecap="round" fill="none"><line x1="1731.1" y1="351.63" x2="1731.1" y2="107.58"/><line x1="1702.08" y1="107.58" x2="1760.12" y2="107.58"/><line x1="1731.1" y1="470.44" x2="1731.1" y2="546.55"/><line x1="1702.08" y1="546.55" x2="1760.12" y2="546.55"/></g>
<line x1="1673.06" y1="404.39" x2="1789.14" y2="404.39" stroke="#0A7CFF" stroke-width="3.0" stroke-linecap="round"/>
<polyline points="1735.73,81.92 1735.91,84.29 1736.11,86.66 1736.31,89.04 1736.51,91.41 1736.72,93.78 1736.94,96.15 1737.17,98.53 1737.4,100.9 1737.64,103.27 1737.88,105.64 1738.14,108.01 1738.39,110.39 1738.66,112.76 1738.93,115.13 1739.22,117.5 1739.5,119.87 1739.8,122.25 1740.1,124.62 1740.42,126.99 1740.74,129.36 1741.06,131.73 1741.4,134.11 1741.74,136.48 1742.09,138.85 1742.45,141.22 1742.82,143.6 1743.19,145.97 1743.57,148.34 1743.96,150.71 1744.36,153.08 1744.77,155.46 1745.19,157.83 1745.61,160.2 1746.04,162.57 1746.48,164.94 1746.93,167.32 1747.38,169.69 1747.84,172.06 1748.31,174.43 1748.79,176.8 1749.28,179.18 1749.77,181.55 1750.27,183.92 1750.78,186.29 1751.29,188.67 1751.82,191.04 1752.34,193.41 1752.88,195.78 1753.42,198.15 1753.97,200.53 1754.52,202.9 1755.08,205.27 1755.65,207.64 1756.22,210.01 1756.79,212.39 1757.38,214.76 1757.96,217.13 1758.55,219.5 1759.15,221.87 1759.74,224.25 1760.35,226.62 1760.95,228.99 1761.56,231.36 1762.17,233.74 1762.78,236.11 1763.4,238.48 1764.01,240.85 1764.63,243.22 1765.25,245.6 1765.87,247.97 1766.48,250.34 1767.1,252.71 1767.72,255.08 1768.34,257.46 1768.95,259.83 1769.56,262.2 1770.18,264.57 1770.78,266.94 1771.39,269.32 1771.99,271.69 1772.59,274.06 1773.18,276.43 1773.76,278.81 1774.35,281.18 1774.92,283.55 1775.49,285.92 1776.06,288.29 1776.61,290.67 1777.16,293.04 1777.7,295.41 1778.23,297.78 1778.75,300.15 1779.27,302.53 1779.77,304.9 1780.26,307.27 1780.75,309.64 1781.22,312.01 1781.68,314.39 1782.13,316.76 1782.56,319.13 1782.99,321.5 1783.4,323.88 1783.8,326.25 1784.18,328.62 1784.55,330.99 1784.9,333.36 1785.24,335.74 1785.57,338.11 1785.88,340.48 1786.18,342.85 1786.45,345.22 1786.72,347.6 1786.96,349.97 1787.19,352.34 1787.41,354.71 1787.6,357.08 1787.78,359.46 1787.94,361.83 1788.09,364.2 1788.21,366.57 1788.32,368.95 1788.41,371.32 1788.49,373.69 1788.54,376.06 1788.58,378.43 1788.6,380.81 1788.6,383.18 1788.58,385.55 1788.55,387.92 1788.49,390.29 1788.42,392.67 1788.33,395.04 1788.22,397.41 1788.1,399.78 1787.96,402.15 1787.8,404.53 1787.62,406.9 1787.43,409.27 1787.21,411.64 1786.99,414.02 1786.74,416.39 1786.48,418.76 1786.2,421.13 1785.91,423.5 1785.6,425.88 1785.28,428.25 1784.94,430.62 1784.58,432.99 1784.22,435.36 1783.83,437.74 1783.44,440.11 1783.03,442.48 1782.61,444.85 1782.17,447.23 1781.72,449.6 1781.26,451.97 1780.79,454.34 1780.31,456.71 1779.82,459.09 1779.32,461.46 1778.8,463.83 1778.28,466.2 1777.75,468.57 1777.21,470.95 1776.66,473.32 1776.11,475.69 1775.55,478.06 1774.98,480.43 1774.4,482.81 1773.82,485.18 1773.23,487.55 1772.64,489.92 1772.05,492.3 1771.45,494.67 1770.84,497.04 1770.23,499.41 1769.62,501.78 1769.01,504.16 1768.4,506.53 1767.78,508.9 1767.16,511.27 1766.54,513.64 1765.92,516.02 1765.31,518.39 1764.69,520.76 1764.07,523.13 1763.45,525.5 1762.84,527.88 1762.23,530.25 1761.62,532.62 1761.01,534.99 1760.4,537.37 1759.8,539.74 1759.2,542.11 1758.61,544.48 1758.02,546.85 1757.43,549.23 1756.85,551.6 1756.27,553.97 1755.7,556.34" fill="none" stroke="#FF6600" stroke-width="2.5" stroke-dasharray="8 11" stroke-linecap="round" stroke-linejoin="round"/>
</g>
<text x="1795.3" y="357.73" class="v">804.25</text>
<text x="1795.3" y="385.42" class="v">722.251</text>
<text x="1795.3" y="476.54" class="v">452.39</text>
<rect x="1586" y="15.4" width="290.2" height="607.8" fill="none" stroke="#000" stroke-width="2.8" stroke-linejoin="miter" stroke-linecap="square"/>
<path d="M1586 589.43H1592M1586 555.67H1598M1586 521.9H1592M1586 488.13H1598M1586 454.37H1592M1586 420.6H1598M1586 386.83H1592M1586 353.07H1598M1586 319.3H1592M1586 285.53H1598M1586 251.77H1592M1586 218H1598M1586 184.23H1592M1586 150.47H1598M1586 116.7H1592M1586 82.93H1598M1586 49.17H1592M1731.1 623.2V635.2" stroke="#000" stroke-width="2.5" fill="none"/>
<text x="1572.8" y="634.3" class="t">0</text>
<text x="1572.8" y="566.77" class="t">200</text>
<text x="1572.8" y="499.23" class="t">400</text>
<text x="1572.8" y="431.7" class="t">600</text>
<text x="1572.8" y="364.17" class="t">800</text>
<text x="1572.8" y="296.63" class="t">1000</text>
<text x="1572.8" y="229.1" class="t">1200</text>
<text x="1572.8" y="161.57" class="t">1400</text>
<text x="1572.8" y="94.03" class="t">1600</text>
<text x="1572.8" y="26.5" class="t">1800</text>
<text x="1488.5" y="319.3" class="ti yt" transform="rotate(-90 1488.5 319.3)" text-anchor="middle">Range</text>
<text x="1731.1" y="674.6" class="ti" text-anchor="middle">Ast</text>
<clipPath id="c5"><rect x="214.6" y="754.6" width="291.8" height="608.9"/></clipPath>
<g clip-path="url(#c5)">
<g stroke="#0A7CFF" stroke-width="2.6" stroke-linecap="round" fill="none"><line x1="360.5" y1="998.16" x2="360.5" y2="876.38"/><line x1="331.32" y1="876.38" x2="389.68" y2="876.38"/><line x1="360.5" y1="1282.31" x2="360.5" y2="1363.5"/><line x1="331.32" y1="1363.5" x2="389.68" y2="1363.5"/></g>
<rect x="302.14" y="998.16" width="116.72" height="284.15" fill="#B8DBFD" stroke="#0A7CFF" stroke-width="3.0" stroke-linejoin="round"/>
<rect x="357.1" y="1132.14" width="6.8" height="6.8" fill="none" stroke="#0A7CFF" stroke-width="1.15"/>
<path fill="#FF6600" d="M341.6 870.98L346.5 876.38L341.6 881.78L336.7 876.38ZM343.71 870.98L348.61 876.38L343.71 881.78L338.81 876.38ZM345.1 870.98L350 876.38L345.1 881.78L340.2 876.38ZM348.22 870.98L353.12 876.38L348.22 881.78L343.32 876.38ZM349.76 870.98L354.66 876.38L349.76 881.78L344.86 876.38ZM351.42 870.98L356.32 876.38L351.42 881.78L346.52 876.38ZM352.22 870.98L357.12 876.38L352.22 881.78L347.32 876.38ZM353.93 870.98L358.83 876.38L353.93 881.78L349.03 876.38ZM355.87 870.98L360.77 876.38L355.87 881.78L350.97 876.38ZM357.88 870.98L362.78 876.38L357.88 881.78L352.98 876.38ZM359.16 870.98L364.06 876.38L359.16 881.78L354.26 876.38ZM361.17 870.98L366.07 876.38L361.17 881.78L356.27 876.38ZM361.99 870.98L366.89 876.38L361.99 881.78L357.09 876.38ZM363.42 870.98L368.32 876.38L363.42 881.78L358.52 876.38ZM364.44 870.98L369.34 876.38L364.44 881.78L359.54 876.38ZM366.19 870.98L371.09 876.38L366.19 881.78L361.29 876.38ZM367.09 870.98L371.99 876.38L367.09 881.78L362.19 876.38ZM367.95 870.98L372.85 876.38L367.95 881.78L363.05 876.38ZM369.48 870.98L374.38 876.38L369.48 881.78L364.58 876.38ZM370.84 870.98L375.74 876.38L370.84 881.78L365.94 876.38ZM373.04 870.98L377.94 876.38L373.04 881.78L368.14 876.38ZM375.11 870.98L380.01 876.38L375.11 881.78L370.21 876.38ZM375.7 870.98L380.6 876.38L375.7 881.78L370.8 876.38ZM343.3 911.57L348.2 916.97L343.3 922.37L338.4 916.97ZM345.68 911.57L350.58 916.97L345.68 922.37L340.78 916.97ZM348.2 911.57L353.1 916.97L348.2 922.37L343.3 916.97ZM351.11 911.57L356.01 916.97L351.11 922.37L346.21 916.97ZM352.84 911.57L357.74 916.97L352.84 922.37L347.94 916.97ZM354.42 911.57L359.32 916.97L354.42 922.37L349.52 916.97ZM357.59 911.57L362.49 916.97L357.59 922.37L352.69 916.97ZM358.75 911.57L363.65 916.97L358.75 922.37L353.85 916.97ZM361.28 911.57L366.18 916.97L361.28 922.37L356.38 916.97ZM363.63 911.57L368.53 916.97L363.63 922.37L358.73 916.97ZM364.53 911.57L369.43 916.97L364.53 922.37L359.63 916.97ZM367.34 911.57L372.24 916.97L367.34 922.37L362.44 916.97ZM370.28 911.57L375.18 916.97L370.28 922.37L365.38 916.97ZM372.58 911.57L377.48 916.97L372.58 922.37L367.68 916.97ZM375.14 911.57L380.04 916.97L375.14 922.37L370.24 916.97ZM376.6 911.57L381.5 916.97L376.6 922.37L371.7 916.97ZM345.8 952.17L350.7 957.57L345.8 962.97L340.9 957.57ZM346.93 952.17L351.83 957.57L346.93 962.97L342.03 957.57ZM348.99 952.17L353.89 957.57L348.99 962.97L344.09 957.57ZM351 952.17L355.9 957.57L351 962.97L346.1 957.57ZM353.81 952.17L358.71 957.57L353.81 962.97L348.91 957.57ZM356.54 952.17L361.44 957.57L356.54 962.97L351.64 957.57ZM359.32 952.17L364.22 957.57L359.32 962.97L354.42 957.57ZM361.52 952.17L366.42 957.57L361.52 962.97L356.62 957.57ZM364.46 952.17L369.36 957.57L364.46 962.97L359.56 957.57ZM366.9 952.17L371.8 957.57L366.9 962.97L362 957.57ZM369.37 952.17L374.27 957.57L369.37 962.97L364.47 957.57ZM370.72 952.17L375.62 957.57L370.72 962.97L365.82 957.57ZM371.59 952.17L376.49 957.57L371.59 962.97L366.69 957.57ZM372.71 952.17L377.61 957.57L372.71 962.97L367.81 957.57ZM374.38 952.17L379.28 957.57L374.38 962.97L369.48 957.57ZM375.2 952.17L380.1 957.57L375.2 962.97L370.3 957.57ZM340.7 992.76L345.6 998.16L340.7 1003.56L335.8 998.16ZM343.51 992.76L348.41 998.16L343.51 1003.56L338.61 998.16ZM345.65 992.76L350.55 998.16L345.65 1003.56L340.75 998.16ZM347.95 992.76L352.85 998.16L347.95 1003.56L343.05 998.16ZM350.26 992.76L355.16 998.16L350.26 1003.56L345.36 998.16ZM352.69 992.76L357.59 998.16L352.69 1003.56L347.79 998.16ZM354.66 992.76L359.56 998.16L354.66 1003.56L349.76 998.16ZM355.47 992.76L360.37 998.16L355.47 1003.56L350.57 998.16ZM358.19 992.76L363.09 998.16L358.19 1003.56L353.29 998.16ZM360.78 992.76L365.68 998.16L360.78 1003.56L355.88 998.16ZM362.79 992.76L367.69 998.16L362.79 1003.56L357.89 998.16ZM364.87 992.76L369.77 998.16L364.87 1003.56L359.97 998.16ZM367.26 992.76L372.16 998.16L367.26 1003.56L362.36 998.16ZM368.21 992.76L373.11 998.16L368.21 1003.56L363.31 998.16ZM370.78 992.76L375.68 998.16L370.78 1003.56L365.88 998.16ZM372.19 992.76L377.09 998.16L372.19 1003.56L367.29 998.16ZM373.17 992.76L378.07 998.16L373.17 1003.56L368.27 998.16ZM374.6 992.76L379.5 998.16L374.6 1003.56L369.7 998.16ZM377.15 992.76L382.05 998.16L377.15 1003.56L372.25 998.16ZM377.4 992.76L382.3 998.16L377.4 1003.56L372.5 998.16ZM339.9 1033.35L344.8 1038.75L339.9 1044.15L335 1038.75ZM342.48 1033.35L347.38 1038.75L342.48 1044.15L337.58 1038.75ZM345.62 1033.35L350.52 1038.75L345.62 1044.15L340.72 1038.75ZM347.6 1033.35L352.5 1038.75L347.6 1044.15L342.7 1038.75ZM349.32 1033.35L354.22 1038.75L349.32 1044.15L344.42 1038.75ZM351.27 1033.35L356.17 1038.75L351.27 1044.15L346.37 1038.75ZM353.71 1033.35L358.61 1038.75L353.71 1044.15L348.81 1038.75ZM356.35 1033.35L361.25 1038.75L356.35 1044.15L351.45 1038.75ZM358.63 1033.35L363.53 1038.75L358.63 1044.15L353.73 1038.75ZM360.98 1033.35L365.88 1038.75L360.98 1044.15L356.08 1038.75ZM361.96 1033.35L366.86 1038.75L361.96 1044.15L357.06 1038.75ZM363.12 1033.35L368.02 1038.75L363.12 1044.15L358.22 1038.75ZM364.52 1033.35L369.42 1038.75L364.52 1044.15L359.62 1038.75ZM367.11 1033.35L372.01 1038.75L367.11 1044.15L362.21 1038.75ZM368.64 1033.35L373.54 1038.75L368.64 1044.15L363.74 1038.75ZM370.8 1033.35L375.7 1038.75L370.8 1044.15L365.9 1038.75ZM371.63 1033.35L376.53 1038.75L371.63 1044.15L366.73 1038.75ZM372.58 1033.35L377.48 1038.75L372.58 1044.15L367.68 1038.75ZM374.02 1033.35L378.92 1038.75L374.02 1044.15L369.12 1038.75ZM376.44 1033.35L381.34 1038.75L376.44 1044.15L371.54 1038.75ZM377.1 1033.35L382 1038.75L377.1 1044.15L372.2 1038.75ZM339 1073.95L343.9 1079.35L339 1084.75L334.1 1079.35ZM341.42 1073.95L346.32 1079.35L341.42 1084.75L336.52 1079.35ZM342.92 1073.95L347.82 1079.35L342.92 1084.75L338.02 1079.35ZM344.96 1073.95L349.86 1079.35L344.96 1084.75L340.06 1079.35ZM346.87 1073.95L351.77 1079.35L346.87 1084.75L341.97 1079.35ZM348.79 1073.95L353.69 1079.35L348.79 1084.75L343.89 1079.35ZM349.88 1073.95L354.78 1079.35L349.88 1084.75L344.98 1079.35ZM352.82 1073.95L357.72 1079.35L352.82 1084.75L347.92 1079.35ZM354.1 1073.95L359 1079.35L354.1 1084.75L349.2 1079.35ZM357.25 1073.95L362.15 1079.35L357.25 1084.75L352.35 1079.35ZM360.3 1073.95L365.2 1079.35L360.3 1084.75L355.4 1079.35ZM361.14 1073.95L366.04 1079.35L361.14 1084.75L356.24 1079.35ZM363.04 1073.95L367.94 1079.35L363.04 1084.75L358.14 1079.35ZM365.81 1073.95L370.71 1079.35L365.81 1084.75L360.91 1079.35ZM368.93 1073.95L373.83 1079.35L368.93 1084.75L364.03 1079.35ZM370.81 1073.95L375.71 1079.35L370.81 1084.75L365.91 1079.35ZM372.25 1073.95L377.15 1079.35L372.25 1084.75L367.35 1079.35ZM373.56 1073.95L378.46 1079.35L373.56 1084.75L368.66 1079.35ZM376.63 1073.95L381.53 1079.35L376.63 1084.75L371.73 1079.35ZM377.93 1073.95L382.83 1079.35L377.93 1084.75L373.03 1079.35ZM378.6 1073.95L383.5 1079.35L378.6 1084.75L373.7 1079.35ZM347.1 1114.54L352 1119.94L347.1 1125.34L342.2 1119.94ZM348.24 1114.54L353.14 1119.94L348.24 1125.34L343.34 1119.94ZM350.3 1114.54L355.2 1119.94L350.3 1125.34L345.4 1119.94ZM353.38 1114.54L358.28 1119.94L353.38 1125.34L348.48 1119.94ZM354.5 1114.54L359.4 1119.94L354.5 1125.34L349.6 1119.94ZM357.27 1114.54L362.17 1119.94L357.27 1125.34L352.37 1119.94ZM359.29 1114.54L364.19 1119.94L359.29 1125.34L354.39 1119.94ZM362.22 1114.54L367.12 1119.94L362.22 1125.34L357.32 1119.94ZM364.71 1114.54L369.61 1119.94L364.71 1125.34L359.81 1119.94ZM366.06 1114.54L370.96 1119.94L366.06 1125.34L361.16 1119.94ZM369.02 1114.54L373.92 1119.94L369.02 1125.34L364.12 1119.94ZM370.99 1114.54L375.89 1119.94L370.99 1125.34L366.09 1119.94ZM371.84 1114.54L376.74 1119.94L371.84 1125.34L366.94 1119.94ZM372.65 1114.54L377.55 1119.94L372.65 1125.34L367.75 1119.94ZM374.63 1114.54L379.53 1119.94L374.63 1125.34L369.73 1119.94ZM375.2 1114.54L380.1 1119.94L375.2 1125.34L370.3 1119.94ZM347.8 1155.13L352.7 1160.53L347.8 1165.93L342.9 1160.53ZM349.32 1155.13L354.22 1160.53L349.32 1165.93L344.42 1160.53ZM350.46 1155.13L355.36 1160.53L350.46 1165.93L345.56 1160.53ZM352.09 1155.13L356.99 1160.53L352.09 1165.93L347.19 1160.53ZM353.65 1155.13L358.55 1160.53L353.65 1165.93L348.75 1160.53ZM356.46 1155.13L361.36 1160.53L356.46 1165.93L351.56 1160.53ZM357.27 1155.13L362.17 1160.53L357.27 1165.93L352.37 1160.53ZM359.87 1155.13L364.77 1160.53L359.87 1165.93L354.97 1160.53ZM362.68 1155.13L367.58 1160.53L362.68 1165.93L357.78 1160.53ZM363.77 1155.13L368.67 1160.53L363.77 1165.93L358.87 1160.53ZM366.79 1155.13L371.69 1160.53L366.79 1165.93L361.89 1160.53ZM369.31 1155.13L374.21 1160.53L369.31 1165.93L364.41 1160.53ZM369.8 1155.13L374.7 1160.53L369.8 1165.93L364.9 1160.53ZM342.4 1195.73L347.3 1201.13L342.4 1206.53L337.5 1201.13ZM343.9 1195.73L348.8 1201.13L343.9 1206.53L339 1201.13ZM345.59 1195.73L350.49 1201.13L345.59 1206.53L340.69 1201.13ZM347.33 1195.73L352.23 1201.13L347.33 1206.53L342.43 1201.13ZM350.53 1195.73L355.43 1201.13L350.53 1206.53L345.63 1201.13ZM352.74 1195.73L357.64 1201.13L352.74 1206.53L347.84 1201.13ZM354.41 1195.73L359.31 1201.13L354.41 1206.53L349.51 1201.13ZM356.24 1195.73L361.14 1201.13L356.24 1206.53L351.34 1201.13ZM357.7 1195.73L362.6 1201.13L357.7 1206.53L352.8 1201.13ZM358.61 1195.73L363.51 1201.13L358.61 1206.53L353.71 1201.13ZM359.66 1195.73L364.56 1201.13L359.66 1206.53L354.76 1201.13ZM362.46 1195.73L367.36 1201.13L362.46 1206.53L357.56 1201.13ZM363.95 1195.73L368.85 1201.13L363.95 1206.53L359.05 1201.13ZM366.99 1195.73L371.89 1201.13L366.99 1206.53L362.09 1201.13ZM368.39 1195.73L373.29 1201.13L368.39 1206.53L363.49 1201.13ZM369.83 1195.73L374.73 1201.13L369.83 1206.53L364.93 1201.13ZM371.85 1195.73L376.75 1201.13L371.85 1206.53L366.95 1201.13ZM373.11 1195.73L378.01 1201.13L373.11 1206.53L368.21 1201.13ZM374.8 1195.73L379.7 1201.13L374.8 1206.53L369.9 1201.13ZM377.9 1195.73L382.8 1201.13L377.9 1206.53L373 1201.13ZM378.6 1195.73L383.5 1201.13L378.6 1206.53L373.7 1201.13ZM352.6 1236.32L357.5 1241.72L352.6 1247.12L347.7 1241.72ZM355.35 1236.32L360.25 1241.72L355.35 1247.12L350.45 1241.72ZM357.66 1236.32L362.56 1241.72L357.66 1247.12L352.76 1241.72ZM360.66 1236.32L365.56 1241.72L360.66 1247.12L355.76 1241.72ZM363.71 1236.32L368.61 1241.72L363.71 1247.12L358.81 1241.72ZM365.83 1236.32L370.73 1241.72L365.83 1247.12L360.93 1241.72ZM368.36 1236.32L373.26 1241.72L368.36 1247.12L363.46 1241.72ZM369.28 1236.32L374.18 1241.72L369.28 1247.12L364.38 1241.72ZM371.83 1236.32L376.73 1241.72L371.83 1247.12L366.93 1241.72ZM373.72 1236.32L378.62 1241.72L373.72 1247.12L368.82 1241.72ZM376.32 1236.32L381.22 1241.72L376.32 1247.12L371.42 1241.72ZM377.4 1236.32L382.3 1241.72L377.4 1247.12L372.5 1241.72ZM347.7 1276.91L352.6 1282.31L347.7 1287.71L342.8 1282.31ZM349.19 1276.91L354.09 1282.31L349.19 1287.71L344.29 1282.31ZM350.1 1276.91L355 1282.31L350.1 1287.71L345.2 1282.31ZM353.13 1276.91L358.03 1282.31L353.13 1287.71L348.23 1282.31ZM354.23 1276.91L359.13 1282.31L354.23 1287.71L349.33 1282.31ZM356.17 1276.91L361.07 1282.31L356.17 1287.71L351.27 1282.31ZM357.79 1276.91L362.69 1282.31L357.79 1287.71L352.89 1282.31ZM359.31 1276.91L364.21 1282.31L359.31 1287.71L354.41 1282.31ZM361.88 1276.91L366.78 1282.31L361.88 1287.71L356.98 1282.31ZM365.02 1276.91L369.92 1282.31L365.02 1287.71L360.12 1282.31ZM366.45 1276.91L371.35 1282.31L366.45 1287.71L361.55 1282.31ZM368.82 1276.91L373.72 1282.31L368.82 1287.71L363.92 1282.31ZM370.34 1276.91L375.24 1282.31L370.34 1287.71L365.44 1282.31ZM372.48 1276.91L377.38 1282.31L372.48 1287.71L367.58 1282.31ZM374.23 1276.91L379.13 1282.31L374.23 1287.71L369.33 1282.31ZM375.43 1276.91L380.33 1282.31L375.43 1287.71L370.53 1282.31ZM376.3 1276.91L381.2 1282.31L376.3 1287.71L371.4 1282.31ZM350.9 1317.51L355.8 1322.91L350.9 1328.31L346 1322.91ZM352.2 1317.51L357.1 1322.91L352.2 1328.31L347.3 1322.91ZM355.17 1317.51L360.07 1322.91L355.17 1328.31L350.27 1322.91ZM357.17 1317.51L362.07 1322.91L357.17 1328.31L352.27 1322.91ZM358.49 1317.51L363.39 1322.91L358.49 1328.31L353.59 1322.91ZM361.47 1317.51L366.37 1322.91L361.47 1328.31L356.57 1322.91ZM364.66 1317.51L369.56 1322.91L364.66 1328.31L359.76 1322.91ZM366.54 1317.51L371.44 1322.91L366.54 1328.31L361.64 1322.91ZM367.68 1317.51L372.58 1322.91L367.68 1328.31L362.78 1322.91ZM368.94 1317.51L373.84 1322.91L368.94 1328.31L364.04 1322.91ZM369.96 1317.51L374.86 1322.91L369.96 1328.31L365.06 1322.91ZM371.58 1317.51L376.48 1322.91L371.58 1328.31L366.68 1322.91ZM372.59 1317.51L377.49 1322.91L372.59 1328.31L367.69 1322.91ZM373.3 1317.51L378.2 1322.91L373.3 1328.31L368.4 1322.91ZM342 1337.8L346.9 1343.2L342 1348.6L337.1 1343.2ZM343.42 1337.8L348.32 1343.2L343.42 1348.6L338.52 1343.2ZM345.59 1337.8L350.49 1343.2L345.59 1348.6L340.69 1343.2ZM348.52 1337.8L353.42 1343.2L348.52 1348.6L343.62 1343.2ZM351.12 1337.8L356.02 1343.2L351.12 1348.6L346.22 1343.2ZM352.91 1337.8L357.81 1343.2L352.91 1348.6L348.01 1343.2ZM354.7 1337.8L359.6 1343.2L354.7 1348.6L349.8 1343.2ZM356.76 1337.8L361.66 1343.2L356.76 1348.6L351.86 1343.2ZM358.46 1337.8L363.36 1343.2L358.46 1348.6L353.56 1343.2ZM360.07 1337.8L364.97 1343.2L360.07 1348.6L355.17 1343.2ZM361.02 1337.8L365.92 1343.2L361.02 1348.6L356.12 1343.2ZM362.49 1337.8L367.39 1343.2L362.49 1348.6L357.59 1343.2ZM365.61 1337.8L370.51 1343.2L365.61 1348.6L360.71 1343.2ZM366.71 1337.8L371.61 1343.2L366.71 1348.6L361.81 1343.2ZM368.72 1337.8L373.62 1343.2L368.72 1348.6L363.82 1343.2ZM371.03 1337.8L375.93 1343.2L371.03 1348.6L366.13 1343.2ZM373.9 1337.8L378.8 1343.2L373.9 1348.6L369 1343.2ZM375 1337.8L379.9 1343.2L375 1348.6L370.1 1343.2ZM344.5 1358.1L349.4 1363.5L344.5 1368.9L339.6 1363.5ZM345.95 1358.1L350.85 1363.5L345.95 1368.9L341.05 1363.5ZM347.35 1358.1L352.25 1363.5L347.35 1368.9L342.45 1363.5ZM349.11 1358.1L354.01 1363.5L349.11 1368.9L344.21 1363.5ZM350.98 1358.1L355.88 1363.5L350.98 1368.9L346.08 1363.5ZM354.07 1358.1L358.97 1363.5L354.07 1368.9L349.17 1363.5ZM356.9 1358.1L361.8 1363.5L356.9 1368.9L352 1363.5ZM359.8 1358.1L364.7 1363.5L359.8 1368.9L354.9 1363.5ZM360.65 1358.1L365.55 1363.5L360.65 1368.9L355.75 1363.5ZM361.53 1358.1L366.43 1363.5L361.53 1368.9L356.63 1363.5ZM364.03 1358.1L368.93 1363.5L364.03 1368.9L359.13 1363.5ZM366.98 1358.1L371.88 1363.5L366.98 1368.9L362.08 1363.5ZM368.92 1358.1L373.82 1363.5L368.92 1368.9L364.02 1363.5ZM371.12 1358.1L376.02 1363.5L371.12 1368.9L366.22 1363.5ZM371.93 1358.1L376.83 1363.5L371.93 1368.9L367.03 1363.5ZM373.66 1358.1L378.56 1363.5L373.66 1368.9L368.76 1363.5ZM376.69 1358.1L381.59 1363.5L376.69 1368.9L371.79 1363.5ZM378.8 1358.1L383.7 1363.5L378.8 1368.9L373.9 1363.5ZM382.8 1155.13L387.7 1160.53L382.8 1165.93L377.9 1160.53ZM390 1195.73L394.9 1201.13L390 1206.53L385.1 1201.13Z"/>
<line x1="302.14" y1="1140.24" x2="418.86" y2="1140.24" stroke="#0A7CFF" stroke-width="3.0" stroke-linecap="round"/>
<polyline points="370.49,837 370.8,839.59 371.11,842.17 371.43,844.75 371.76,847.33 372.1,849.91 372.44,852.49 372.79,855.08 373.14,857.66 373.5,860.24 373.87,862.82 374.24,865.4 374.63,867.99 375.02,870.57 375.41,873.15 375.81,875.73 376.22,878.31 376.64,880.89 377.06,883.48 377.49,886.06 377.92,888.64 378.37,891.22 378.81,893.8 379.27,896.38 379.73,898.97 380.2,901.55 380.67,904.13 381.15,906.71 381.63,909.29 382.12,911.87 382.62,914.46 383.12,917.04 383.63,919.62 384.14,922.2 384.66,924.78 385.18,927.37 385.71,929.95 386.24,932.53 386.77,935.11 387.31,937.69 387.85,940.27 388.4,942.86 388.95,945.44 389.5,948.02 390.06,950.6 390.62,953.18 391.18,955.76 391.75,958.35 392.31,960.93 392.88,963.51 393.45,966.09 394.02,968.67 394.59,971.25 395.16,973.84 395.73,976.42 396.31,979 396.88,981.58 397.45,984.16 398.02,986.75 398.59,989.33 399.16,991.91 399.73,994.49 400.29,997.07 400.85,999.65 401.41,1002.24 401.97,1004.82 402.52,1007.4 403.07,1009.98 403.61,1012.56 404.15,1015.14 404.69,1017.73 405.21,1020.31 405.74,1022.89 406.26,1025.47 406.77,1028.05 407.27,1030.63 407.77,1033.22 408.26,1035.8 408.75,1038.38 409.22,1040.96 409.69,1043.54 410.15,1046.13 410.6,1048.71 411.04,1051.29 411.47,1053.87 411.9,1056.45 412.31,1059.03 412.71,1061.62 413.1,1064.2 413.48,1066.78 413.85,1069.36 414.2,1071.94 414.55,1074.52 414.88,1077.11 415.2,1079.69 415.51,1082.27 415.8,1084.85 416.09,1087.43 416.36,1090.01 416.61,1092.6 416.85,1095.18 417.08,1097.76 417.3,1100.34 417.49,1102.92 417.68,1105.51 417.85,1108.09 418.01,1110.67 418.15,1113.25 418.28,1115.83 418.39,1118.41 418.49,1121 418.57,1123.58 418.63,1126.16 418.69,1128.74 418.72,1131.32 418.74,1133.9 418.75,1136.49 418.74,1139.07 418.72,1141.65 418.68,1144.23 418.62,1146.81 418.55,1149.39 418.46,1151.98 418.36,1154.56 418.25,1157.14 418.12,1159.72 417.97,1162.3 417.81,1164.88 417.64,1167.47 417.45,1170.05 417.25,1172.63 417.03,1175.21 416.8,1177.79 416.55,1180.38 416.29,1182.96 416.02,1185.54 415.74,1188.12 415.44,1190.7 415.13,1193.28 414.8,1195.87 414.47,1198.45 414.12,1201.03 413.76,1203.61 413.39,1206.19 413.01,1208.77 412.61,1211.36 412.21,1213.94 411.8,1216.52 411.37,1219.1 410.94,1221.68 410.49,1224.26 410.04,1226.85 409.58,1229.43 409.11,1232.01 408.63,1234.59 408.15,1237.17 407.65,1239.76 407.15,1242.34 406.65,1244.92 406.13,1247.5 405.61,1250.08 405.09,1252.66 404.56,1255.25 404.02,1257.83 403.48,1260.41 402.94,1262.99 402.39,1265.57 401.83,1268.15 401.28,1270.74 400.72,1273.32 400.16,1275.9 399.59,1278.48 399.02,1281.06 398.46,1283.64 397.89,1286.23 397.31,1288.81 396.74,1291.39 396.17,1293.97 395.6,1296.55 395.03,1299.14 394.45,1301.72 393.88,1304.3 393.31,1306.88 392.74,1309.46 392.18,1312.04 391.61,1314.63 391.05,1317.21 390.49,1319.79 389.93,1322.37 389.37,1324.95 388.82,1327.53 388.27,1330.12 387.72,1332.7 387.18,1335.28 386.64,1337.86 386.11,1340.44 385.58,1343.02 385.05,1345.61 384.53,1348.19 384.02,1350.77 383.51,1353.35" fill="none" stroke="#FF6600" stroke-width="2.5" stroke-dasharray="8 11" stroke-linecap="round" stroke-linejoin="round"/>
</g>
<text x="425.4" y="1004.26" class="v">90</text>
<text x="425.4" y="1141.99" class="v">56.07143</text>
<text x="425.4" y="1288.41" class="v">20</text>
<rect x="214.6" y="754.6" width="291.8" height="608.9" fill="none" stroke="#000" stroke-width="2.8" stroke-linejoin="miter" stroke-linecap="square"/>
<path d="M214.6 1312.76H220.6M214.6 1262.02H226.6M214.6 1211.28H220.6M214.6 1160.53H226.6M214.6 1109.79H220.6M214.6 1059.05H226.6M214.6 1008.31H220.6M214.6 957.57H226.6M214.6 906.83H220.6M214.6 856.08H226.6M214.6 805.34H220.6M360.5 1363.5V1375.5" stroke="#000" stroke-width="2.5" fill="none"/>
<text x="201.4" y="1374.6" class="t">0</text>
<text x="201.4" y="1273.12" class="t">25</text>
<text x="201.4" y="1171.63" class="t">50</text>
<text x="201.4" y="1070.15" class="t">75</text>
<text x="201.4" y="968.67" class="t">100</text>
<text x="201.4" y="867.18" class="t">125</text>
<text x="201.4" y="765.7" class="t">150</text>
<text x="134.9" y="1059.05" class="ti yt" transform="rotate(-90 134.9 1059.05)" text-anchor="middle">Range</text>
<text x="360.5" y="1414.9" class="ti" text-anchor="middle">t</text>
<clipPath id="c6"><rect x="880.2" y="751.7" width="294.5" height="613.7"/></clipPath>
<g clip-path="url(#c6)">
<g stroke="#0A7CFF" stroke-width="2.6" stroke-linecap="round" fill="none"></g>
<rect x="968.55" y="1058.55" width="117.8" height="102.33" fill="#B8DBFD" stroke="#0A7CFF" stroke-width="3.0" stroke-linejoin="round"/>
<rect x="1024.05" y="1095.73" width="6.8" height="6.8" fill="none" stroke="#0A7CFF" stroke-width="1.15"/>
<path fill="#FF6600" d="M1005.9 1053.15L1010.8 1058.55L1005.9 1063.95L1001 1058.55ZM1008.75 1053.15L1013.65 1058.55L1008.75 1063.95L1003.85 1058.55ZM1011.89 1053.15L1016.79 1058.55L1011.89 1063.95L1006.99 1058.55ZM1013.28 1053.15L1018.18 1058.55L1013.28 1063.95L1008.38 1058.55ZM1014.34 1053.15L1019.24 1058.55L1014.34 1063.95L1009.44 1058.55ZM1015.52 1053.15L1020.42 1058.55L1015.52 1063.95L1010.62 1058.55ZM1017.57 1053.15L1022.47 1058.55L1017.57 1063.95L1012.67 1058.55ZM1020.01 1053.15L1024.91 1058.55L1020.01 1063.95L1015.11 1058.55ZM1023.07 1053.15L1027.97 1058.55L1023.07 1063.95L1018.17 1058.55ZM1025.6 1053.15L1030.5 1058.55L1025.6 1063.95L1020.7 1058.55ZM1027.95 1053.15L1032.85 1058.55L1027.95 1063.95L1023.05 1058.55ZM1030.59 1053.15L1035.49 1058.55L1030.59 1063.95L1025.69 1058.55ZM1032.48 1053.15L1037.38 1058.55L1032.48 1063.95L1027.58 1058.55ZM1034.61 1053.15L1039.51 1058.55L1034.61 1063.95L1029.71 1058.55ZM1035.5 1053.15L1040.4 1058.55L1035.5 1063.95L1030.6 1058.55ZM1038.18 1053.15L1043.08 1058.55L1038.18 1063.95L1033.28 1058.55ZM1039.54 1053.15L1044.44 1058.55L1039.54 1063.95L1034.64 1058.55ZM1042.55 1053.15L1047.45 1058.55L1042.55 1063.95L1037.65 1058.55ZM1044.9 1053.15L1049.8 1058.55L1044.9 1063.95L1040 1058.55ZM1046.1 1053.15L1051 1058.55L1046.1 1063.95L1041.2 1058.55ZM1006.4 1155.48L1011.3 1160.88L1006.4 1166.28L1001.5 1160.88ZM1007.51 1155.48L1012.41 1160.88L1007.51 1166.28L1002.61 1160.88ZM1008.91 1155.48L1013.81 1160.88L1008.91 1166.28L1004.01 1160.88ZM1011.24 1155.48L1016.14 1160.88L1011.24 1166.28L1006.34 1160.88ZM1013.72 1155.48L1018.62 1160.88L1013.72 1166.28L1008.82 1160.88ZM1014.78 1155.48L1019.68 1160.88L1014.78 1166.28L1009.88 1160.88ZM1015.75 1155.48L1020.65 1160.88L1015.75 1166.28L1010.85 1160.88ZM1017.81 1155.48L1022.71 1160.88L1017.81 1166.28L1012.91 1160.88ZM1020.01 1155.48L1024.91 1160.88L1020.01 1166.28L1015.11 1160.88ZM1021.74 1155.48L1026.64 1160.88L1021.74 1166.28L1016.84 1160.88ZM1023.08 1155.48L1027.98 1160.88L1023.08 1166.28L1018.18 1160.88ZM1025.32 1155.48L1030.22 1160.88L1025.32 1166.28L1020.42 1160.88ZM1026.15 1155.48L1031.05 1160.88L1026.15 1166.28L1021.25 1160.88ZM1027.67 1155.48L1032.57 1160.88L1027.67 1166.28L1022.77 1160.88ZM1029.58 1155.48L1034.48 1160.88L1029.58 1166.28L1024.68 1160.88ZM1032.68 1155.48L1037.58 1160.88L1032.68 1166.28L1027.78 1160.88ZM1035.02 1155.48L1039.92 1160.88L1035.02 1166.28L1030.12 1160.88ZM1037.95 1155.48L1042.85 1160.88L1037.95 1166.28L1033.05 1160.88ZM1039.89 1155.48L1044.79 1160.88L1039.89 1166.28L1034.99 1160.88ZM1041.25 1155.48L1046.15 1160.88L1041.25 1166.28L1036.35 1160.88ZM1042.64 1155.48L1047.54 1160.88L1042.64 1166.28L1037.74 1160.88ZM1045.75 1155.48L1050.65 1160.88L1045.75 1166.28L1040.85 1160.88ZM1048.24 1155.48L1053.14 1160.88L1048.24 1166.28L1043.34 1160.88ZM1049.78 1155.48L1054.68 1160.88L1049.78 1166.28L1044.88 1160.88ZM1050.63 1155.48L1055.53 1160.88L1050.63 1166.28L1045.73 1160.88ZM1052.6 1155.48L1057.5 1160.88L1052.6 1166.28L1047.7 1160.88ZM1049.5 1053.15L1054.4 1058.55L1049.5 1063.95L1044.6 1058.55ZM1056.8 1053.15L1061.7 1058.55L1056.8 1063.95L1051.9 1058.55Z"/>
<line x1="968.55" y1="1058.55" x2="1086.35" y2="1058.55" stroke="#0A7CFF" stroke-width="3.0" stroke-linecap="round"/>
<polyline points="1063.95,1050.88 1064.37,1051.46 1064.78,1052.04 1065.19,1052.63 1065.6,1053.21 1066.01,1053.79 1066.42,1054.38 1066.83,1054.96 1067.24,1055.54 1067.64,1056.13 1068.05,1056.71 1068.45,1057.29 1068.85,1057.87 1069.25,1058.46 1069.65,1059.04 1070.05,1059.62 1070.44,1060.21 1070.84,1060.79 1071.23,1061.37 1071.61,1061.96 1072,1062.54 1072.38,1063.12 1072.76,1063.71 1073.14,1064.29 1073.51,1064.87 1073.88,1065.45 1074.25,1066.04 1074.61,1066.62 1074.97,1067.2 1075.33,1067.79 1075.68,1068.37 1076.03,1068.95 1076.38,1069.54 1076.72,1070.12 1077.06,1070.7 1077.39,1071.28 1077.72,1071.87 1078.04,1072.45 1078.36,1073.03 1078.67,1073.62 1078.98,1074.2 1079.28,1074.78 1079.58,1075.37 1079.87,1075.95 1080.16,1076.53 1080.44,1077.11 1080.72,1077.7 1080.99,1078.28 1081.25,1078.86 1081.51,1079.45 1081.76,1080.03 1082.01,1080.61 1082.25,1081.2 1082.48,1081.78 1082.71,1082.36 1082.93,1082.94 1083.14,1083.53 1083.35,1084.11 1083.55,1084.69 1083.75,1085.28 1083.93,1085.86 1084.11,1086.44 1084.29,1087.03 1084.45,1087.61 1084.61,1088.19 1084.76,1088.77 1084.91,1089.36 1085.04,1089.94 1085.17,1090.52 1085.29,1091.11 1085.41,1091.69 1085.52,1092.27 1085.62,1092.86 1085.71,1093.44 1085.79,1094.02 1085.87,1094.6 1085.93,1095.19 1086,1095.77 1086.05,1096.35 1086.09,1096.94 1086.13,1097.52 1086.16,1098.1 1086.18,1098.69 1086.19,1099.27 1086.2,1099.85 1086.2,1100.44 1086.19,1101.02 1086.17,1101.6 1086.14,1102.18 1086.11,1102.77 1086.07,1103.35 1086.02,1103.93 1085.96,1104.52 1085.9,1105.1 1085.82,1105.68 1085.74,1106.27 1085.65,1106.85 1085.56,1107.43 1085.46,1108.01 1085.34,1108.6 1085.23,1109.18 1085.1,1109.76 1084.97,1110.35 1084.82,1110.93 1084.68,1111.51 1084.52,1112.1 1084.36,1112.68 1084.19,1113.26 1084.01,1113.84 1083.83,1114.43 1083.64,1115.01 1083.44,1115.59 1083.23,1116.18 1083.02,1116.76 1082.8,1117.34 1082.58,1117.93 1082.35,1118.51 1082.11,1119.09 1081.87,1119.67 1081.62,1120.26 1081.36,1120.84 1081.1,1121.42 1080.83,1122.01 1080.56,1122.59 1080.28,1123.17 1079.99,1123.76 1079.7,1124.34 1079.41,1124.92 1079.11,1125.5 1078.8,1126.09 1078.49,1126.67 1078.17,1127.25 1077.85,1127.84 1077.53,1128.42 1077.2,1129 1076.86,1129.59 1076.52,1130.17 1076.18,1130.75 1075.83,1131.33 1075.48,1131.92 1075.13,1132.5 1074.77,1133.08 1074.4,1133.67 1074.04,1134.25 1073.67,1134.83 1073.3,1135.42 1072.92,1136 1072.54,1136.58 1072.16,1137.16 1071.78,1137.75 1071.39,1138.33 1071,1138.91 1070.61,1139.5 1070.22,1140.08 1069.82,1140.66 1069.42,1141.25 1069.02,1141.83 1068.62,1142.41 1068.22,1143 1067.81,1143.58 1067.41,1144.16 1067,1144.74 1066.59,1145.33 1066.18,1145.91 1065.77,1146.49 1065.36,1147.08 1064.95,1147.66 1064.54,1148.24 1064.13,1148.83 1063.71,1149.41 1063.3,1149.99 1062.89,1150.57 1062.48,1151.16 1062.06,1151.74 1061.65,1152.32 1061.24,1152.91 1060.83,1153.49 1060.42,1154.07 1060.01,1154.66 1059.6,1155.24 1059.19,1155.82 1058.78,1156.4 1058.37,1156.99 1057.97,1157.57 1057.56,1158.15 1057.16,1158.74 1056.76,1159.32 1056.36,1159.9 1055.96,1160.49 1055.57,1161.07 1055.17,1161.65 1054.78,1162.23 1054.39,1162.82 1054,1163.4 1053.61,1163.98 1053.23,1164.57 1052.85,1165.15 1052.47,1165.73 1052.09,1166.32 1051.71,1166.9 1051.34,1167.48" fill="none" stroke="#FF6600" stroke-width="2.5" stroke-dasharray="8 11" stroke-linecap="round" stroke-linejoin="round"/>
</g>
<text x="1093.2" y="1064.65" class="v">20</text>
<text x="1093.2" y="1105.58" class="v">17.332</text>
<text x="1093.2" y="1166.98" class="v">13.33</text>
<rect x="880.2" y="751.7" width="294.5" height="613.7" fill="none" stroke="#000" stroke-width="2.8" stroke-linejoin="miter" stroke-linecap="square"/>
<path d="M880.2 1288.69H886.2M880.2 1211.98H892.2M880.2 1135.26H886.2M880.2 1058.55H892.2M880.2 981.84H886.2M880.2 905.12H892.2M880.2 828.41H886.2M1027.45 1365.4V1377.4" stroke="#000" stroke-width="2.5" fill="none"/>
<text x="867" y="1376.5" class="t">0</text>
<text x="867" y="1223.08" class="t">10</text>
<text x="867" y="1069.65" class="t">20</text>
<text x="867" y="916.23" class="t">30</text>
<text x="867" y="762.8" class="t">40</text>
<text x="816.7" y="1058.55" class="ti yt" transform="rotate(-90 816.7 1058.55)" text-anchor="middle">Range</text>
<text x="1027.45" y="1416.8" class="ti" text-anchor="middle">fc</text>
<clipPath id="c7"><rect x="1519.8" y="745.1" width="296.8" height="619.4"/></clipPath>
<g clip-path="url(#c7)">
<g stroke="#0A7CFF" stroke-width="2.6" stroke-linecap="round" fill="none"><line x1="1668.2" y1="1336.41" x2="1668.2" y2="793.46"/><line x1="1638.52" y1="793.46" x2="1697.88" y2="793.46"/><line x1="1668.2" y1="1357.14" x2="1668.2" y2="1362.33"/><line x1="1638.52" y1="1362.33" x2="1697.88" y2="1362.33"/></g>
<rect x="1608.84" y="1336.41" width="118.72" height="20.73" fill="#B8DBFD" stroke="#0A7CFF" stroke-width="3.0" stroke-linejoin="round"/>
<rect x="1664.8" y="1323.82" width="6.8" height="6.8" fill="none" stroke="#0A7CFF" stroke-width="1.15"/>
<path fill="#FF6600" d="M1649.8 788.05L1655.15 793.5L1649.8 798.95L1644.45 793.5ZM1680.1 799.05L1685.45 804.5L1680.1 809.95L1674.75 804.5ZM1656.7 826.75L1662.05 832.2L1656.7 837.65L1651.35 832.2ZM1661.7 1073.15L1667.05 1078.6L1661.7 1084.05L1656.35 1078.6ZM1650.4 1089.55L1655.75 1095L1650.4 1100.45L1645.05 1095ZM1663.7 1099.05L1669.05 1104.5L1663.7 1109.95L1658.35 1104.5ZM1667.7 1102.45L1673.05 1107.9L1667.7 1113.35L1662.35 1107.9ZM1663.7 1113.75L1669.05 1119.2L1663.7 1124.65L1658.35 1119.2ZM1672.7 1135.15L1678.05 1140.6L1672.7 1146.05L1667.35 1140.6ZM1662.8 1155.85L1668.15 1161.3L1662.8 1166.75L1657.45 1161.3ZM1666.3 1169.55L1671.65 1175L1666.3 1180.45L1660.95 1175ZM1677.8 1198.35L1683.15 1203.8L1677.8 1209.25L1672.45 1203.8ZM1684 1196.05L1689.35 1201.5L1684 1206.95L1678.65 1201.5ZM1669.3 1206.75L1674.65 1212.2L1669.3 1217.65L1663.95 1212.2ZM1668.9 1232.25L1674.25 1237.7L1668.9 1243.15L1663.55 1237.7ZM1649.1 1239.25L1654.45 1244.7L1649.1 1250.15L1643.75 1244.7ZM1656.4 1238.05L1661.75 1243.5L1656.4 1248.95L1651.05 1243.5ZM1657.7 1241.85L1663.05 1247.3L1657.7 1252.75L1652.35 1247.3ZM1665.4 1245.05L1670.75 1250.5L1665.4 1255.95L1660.05 1250.5ZM1670.5 1253.95L1675.85 1259.4L1670.5 1264.85L1665.15 1259.4ZM1662.5 1256.25L1667.85 1261.7L1662.5 1267.15L1657.15 1261.7ZM1670.8 1260.05L1676.15 1265.5L1670.8 1270.95L1665.45 1265.5ZM1659 1264.15L1664.35 1269.6L1659 1275.05L1653.65 1269.6ZM1666 1265.45L1671.35 1270.9L1666 1276.35L1660.65 1270.9ZM1658.3 1270.95L1663.65 1276.4L1658.3 1281.85L1652.95 1276.4ZM1664.7 1272.55L1670.05 1278L1664.7 1283.45L1659.35 1278ZM1662.2 1276.95L1667.55 1282.4L1662.2 1287.85L1656.85 1282.4ZM1664.1 1281.45L1669.45 1286.9L1664.1 1292.35L1658.75 1286.9ZM1682.3 1287.25L1687.65 1292.7L1682.3 1298.15L1676.95 1292.7ZM1680.8 1289.45L1686.15 1294.9L1680.8 1300.35L1675.45 1294.9ZM1687.7 1297.25L1693.05 1302.7L1687.7 1308.15L1682.35 1302.7ZM1697.6 1318.95L1702.95 1324.4L1697.6 1329.85L1692.25 1324.4ZM1678.8 1302.65L1684.15 1308.1L1678.8 1313.55L1673.45 1308.1ZM1669.2 1299.15L1674.55 1304.6L1669.2 1310.05L1663.85 1304.6ZM1656.7 1307.45L1662.05 1312.9L1656.7 1318.35L1651.35 1312.9ZM1650 1328.85L1655.35 1334.3L1650 1339.75L1644.65 1334.3ZM1646.2 1343.55L1651.55 1349L1646.2 1354.45L1640.85 1349ZM1664.4 1305.15L1669.75 1310.6L1664.4 1316.05L1659.05 1310.6ZM1669.7 1311.85L1675.05 1317.3L1669.7 1322.75L1664.35 1317.3ZM1660.7 1314.05L1666.05 1319.5L1660.7 1324.95L1655.35 1319.5ZM1681.2 1315.15L1686.55 1320.6L1681.2 1326.05L1675.85 1320.6ZM1658.1 1320.75L1663.45 1326.2L1658.1 1331.65L1652.75 1326.2ZM1679.7 1322.65L1685.05 1328.1L1679.7 1333.55L1674.35 1328.1ZM1677.5 1308.05L1682.85 1313.5L1677.5 1318.95L1672.15 1313.5ZM1659.9 1316.55L1665.25 1322L1659.9 1327.45L1654.55 1322ZM1661.48 1316.55L1666.83 1322L1661.48 1327.45L1656.13 1322ZM1662.64 1316.55L1667.99 1322L1662.64 1327.45L1657.29 1322ZM1665 1316.55L1670.35 1322L1665 1327.45L1659.65 1322ZM1665.98 1316.55L1671.33 1322L1665.98 1327.45L1660.63 1322ZM1668.06 1316.55L1673.41 1322L1668.06 1327.45L1662.71 1322ZM1669.74 1316.55L1675.09 1322L1669.74 1327.45L1664.39 1322ZM1670.68 1316.55L1676.03 1322L1670.68 1327.45L1665.33 1322ZM1672.7 1316.55L1678.05 1322L1672.7 1327.45L1667.35 1322ZM1673.59 1316.55L1678.94 1322L1673.59 1327.45L1668.24 1322ZM1675.43 1316.55L1680.78 1322L1675.43 1327.45L1670.08 1322ZM1676.39 1316.55L1681.74 1322L1676.39 1327.45L1671.04 1322ZM1677.41 1316.55L1682.76 1322L1677.41 1327.45L1672.06 1322ZM1679.1 1316.55L1684.45 1322L1679.1 1327.45L1673.75 1322ZM1658.9 1320.55L1664.25 1326L1658.9 1331.45L1653.55 1326ZM1661.68 1320.55L1667.03 1326L1661.68 1331.45L1656.33 1326ZM1662.78 1320.55L1668.13 1326L1662.78 1331.45L1657.43 1326ZM1664.12 1320.55L1669.47 1326L1664.12 1331.45L1658.77 1326ZM1666.42 1320.55L1671.77 1326L1666.42 1331.45L1661.07 1326ZM1669.5 1320.55L1674.85 1326L1669.5 1331.45L1664.15 1326ZM1671.68 1320.55L1677.03 1326L1671.68 1331.45L1666.33 1326ZM1673.43 1320.55L1678.78 1326L1673.43 1331.45L1668.08 1326ZM1676.58 1320.55L1681.93 1326L1676.58 1331.45L1671.23 1326ZM1677.49 1320.55L1682.84 1326L1677.49 1331.45L1672.14 1326ZM1678.1 1320.55L1683.45 1326L1678.1 1331.45L1672.75 1326ZM1656.9 1324.55L1662.25 1330L1656.9 1335.45L1651.55 1330ZM1658.4 1324.55L1663.75 1330L1658.4 1335.45L1653.05 1330ZM1659.54 1324.55L1664.89 1330L1659.54 1335.45L1654.19 1330ZM1660.62 1324.55L1665.97 1330L1660.62 1335.45L1655.27 1330ZM1662.16 1324.55L1667.51 1330L1662.16 1335.45L1656.81 1330ZM1664.92 1324.55L1670.27 1330L1664.92 1335.45L1659.57 1330ZM1666.16 1324.55L1671.51 1330L1666.16 1335.45L1660.81 1330ZM1668.35 1324.55L1673.7 1330L1668.35 1335.45L1663 1330ZM1670.69 1324.55L1676.04 1330L1670.69 1335.45L1665.34 1330ZM1672.38 1324.55L1677.73 1330L1672.38 1335.45L1667.03 1330ZM1674.49 1324.55L1679.84 1330L1674.49 1335.45L1669.14 1330ZM1675.45 1324.55L1680.8 1330L1675.45 1335.45L1670.1 1330ZM1676.39 1324.55L1681.74 1330L1676.39 1335.45L1671.04 1330ZM1677.68 1324.55L1683.03 1330L1677.68 1335.45L1672.33 1330ZM1679.1 1324.55L1684.45 1330L1679.1 1335.45L1673.75 1330ZM1650.9 1328.55L1656.25 1334L1650.9 1339.45L1645.55 1334ZM1652.73 1328.55L1658.08 1334L1652.73 1339.45L1647.38 1334ZM1654.28 1328.55L1659.63 1334L1654.28 1339.45L1648.93 1334ZM1656.49 1328.55L1661.84 1334L1656.49 1339.45L1651.14 1334ZM1658.37 1328.55L1663.72 1334L1658.37 1339.45L1653.02 1334ZM1659.89 1328.55L1665.24 1334L1659.89 1339.45L1654.54 1334ZM1662.6 1328.55L1667.95 1334L1662.6 1339.45L1657.25 1334ZM1665.08 1328.55L1670.43 1334L1665.08 1339.45L1659.73 1334ZM1666.46 1328.55L1671.81 1334L1666.46 1339.45L1661.11 1334ZM1668.64 1328.55L1673.99 1334L1668.64 1339.45L1663.29 1334ZM1670.7 1328.55L1676.05 1334L1670.7 1339.45L1665.35 1334ZM1673.6 1328.55L1678.95 1334L1673.6 1339.45L1668.25 1334ZM1676.15 1328.55L1681.5 1334L1676.15 1339.45L1670.8 1334ZM1677.64 1328.55L1682.99 1334L1677.64 1339.45L1672.29 1334ZM1680.8 1328.55L1686.15 1334L1680.8 1339.45L1675.45 1334ZM1681.1 1328.55L1686.45 1334L1681.1 1339.45L1675.75 1334ZM1650.9 1332.55L1656.25 1338L1650.9 1343.45L1645.55 1338ZM1652.7 1332.55L1658.05 1338L1652.7 1343.45L1647.35 1338ZM1655.32 1332.55L1660.67 1338L1655.32 1343.45L1649.97 1338ZM1656.49 1332.55L1661.84 1338L1656.49 1343.45L1651.14 1338ZM1658.46 1332.55L1663.81 1338L1658.46 1343.45L1653.11 1338ZM1659.35 1332.55L1664.7 1338L1659.35 1343.45L1654 1338ZM1661.76 1332.55L1667.11 1338L1661.76 1343.45L1656.41 1338ZM1664.39 1332.55L1669.74 1338L1664.39 1343.45L1659.04 1338ZM1666.57 1332.55L1671.92 1338L1666.57 1343.45L1661.22 1338ZM1669.47 1332.55L1674.82 1338L1669.47 1343.45L1664.12 1338ZM1671.02 1332.55L1676.37 1338L1671.02 1343.45L1665.67 1338ZM1673.49 1332.55L1678.84 1338L1673.49 1343.45L1668.14 1338ZM1675.72 1332.55L1681.07 1338L1675.72 1343.45L1670.37 1338ZM1677.91 1332.55L1683.26 1338L1677.91 1343.45L1672.56 1338ZM1679.8 1332.55L1685.15 1338L1679.8 1343.45L1674.45 1338ZM1682.62 1332.55L1687.97 1338L1682.62 1343.45L1677.27 1338ZM1684.1 1332.55L1689.45 1338L1684.1 1343.45L1678.75 1338ZM1650.9 1336.55L1656.25 1342L1650.9 1347.45L1645.55 1342ZM1652.84 1336.55L1658.19 1342L1652.84 1347.45L1647.49 1342ZM1655.23 1336.55L1660.58 1342L1655.23 1347.45L1649.88 1342ZM1656.18 1336.55L1661.53 1342L1656.18 1347.45L1650.83 1342ZM1658.66 1336.55L1664.01 1342L1658.66 1347.45L1653.31 1342ZM1661.01 1336.55L1666.36 1342L1661.01 1347.45L1655.66 1342ZM1664.2 1336.55L1669.55 1342L1664.2 1347.45L1658.85 1342ZM1666.97 1336.55L1672.32 1342L1666.97 1347.45L1661.62 1342ZM1668.45 1336.55L1673.8 1342L1668.45 1347.45L1663.1 1342ZM1670.18 1336.55L1675.53 1342L1670.18 1347.45L1664.83 1342ZM1672.58 1336.55L1677.93 1342L1672.58 1347.45L1667.23 1342ZM1673.44 1336.55L1678.79 1342L1673.44 1347.45L1668.09 1342ZM1675.35 1336.55L1680.7 1342L1675.35 1347.45L1670 1342ZM1676.55 1336.55L1681.9 1342L1676.55 1347.45L1671.2 1342ZM1677.63 1336.55L1682.98 1342L1677.63 1347.45L1672.28 1342ZM1678.57 1336.55L1683.92 1342L1678.57 1347.45L1673.22 1342ZM1681.22 1336.55L1686.57 1342L1681.22 1347.45L1675.87 1342ZM1682.33 1336.55L1687.68 1342L1682.33 1347.45L1676.98 1342ZM1683.72 1336.55L1689.07 1342L1683.72 1347.45L1678.37 1342ZM1684.1 1336.55L1689.45 1342L1684.1 1347.45L1678.75 1342ZM1647.9 1340.55L1653.25 1346L1647.9 1351.45L1642.55 1346ZM1650.79 1340.55L1656.14 1346L1650.79 1351.45L1645.44 1346ZM1651.78 1340.55L1657.13 1346L1651.78 1351.45L1646.43 1346ZM1653.66 1340.55L1659.01 1346L1653.66 1351.45L1648.31 1346ZM1655.78 1340.55L1661.13 1346L1655.78 1351.45L1650.43 1346ZM1658.7 1340.55L1664.05 1346L1658.7 1351.45L1653.35 1346ZM1661.47 1340.55L1666.82 1346L1661.47 1351.45L1656.12 1346ZM1664.34 1340.55L1669.69 1346L1664.34 1351.45L1658.99 1346ZM1665.81 1340.55L1671.16 1346L1665.81 1351.45L1660.46 1346ZM1667.61 1340.55L1672.96 1346L1667.61 1351.45L1662.26 1346ZM1669.27 1340.55L1674.62 1346L1669.27 1351.45L1663.92 1346ZM1672.19 1340.55L1677.54 1346L1672.19 1351.45L1666.84 1346ZM1675.29 1340.55L1680.64 1346L1675.29 1351.45L1669.94 1346ZM1676.45 1340.55L1681.8 1346L1676.45 1351.45L1671.1 1346ZM1677.67 1340.55L1683.02 1346L1677.67 1351.45L1672.32 1346ZM1679.03 1340.55L1684.38 1346L1679.03 1351.45L1673.68 1346ZM1680.39 1340.55L1685.74 1346L1680.39 1351.45L1675.04 1346ZM1682.35 1340.55L1687.7 1346L1682.35 1351.45L1677 1346ZM1683.1 1340.55L1688.45 1346L1683.1 1351.45L1677.75 1346ZM1645.9 1344.55L1651.25 1350L1645.9 1355.45L1640.55 1350ZM1647.33 1344.55L1652.68 1350L1647.33 1355.45L1641.98 1350ZM1648.14 1344.55L1653.49 1350L1648.14 1355.45L1642.79 1350ZM1649.95 1344.55L1655.3 1350L1649.95 1355.45L1644.6 1350ZM1651.63 1344.55L1656.98 1350L1651.63 1355.45L1646.28 1350ZM1653.79 1344.55L1659.14 1350L1653.79 1355.45L1648.44 1350ZM1656.88 1344.55L1662.23 1350L1656.88 1355.45L1651.53 1350ZM1659.34 1344.55L1664.69 1350L1659.34 1355.45L1653.99 1350ZM1661.37 1344.55L1666.72 1350L1661.37 1355.45L1656.02 1350ZM1663.66 1344.55L1669.01 1350L1663.66 1355.45L1658.31 1350ZM1666.08 1344.55L1671.43 1350L1666.08 1355.45L1660.73 1350ZM1667.01 1344.55L1672.36 1350L1667.01 1355.45L1661.66 1350ZM1669.97 1344.55L1675.32 1350L1669.97 1355.45L1664.62 1350ZM1672.64 1344.55L1677.99 1350L1672.64 1355.45L1667.29 1350ZM1675.54 1344.55L1680.89 1350L1675.54 1355.45L1670.19 1350ZM1678.25 1344.55L1683.6 1350L1678.25 1355.45L1672.9 1350ZM1679.99 1344.55L1685.34 1350L1679.99 1355.45L1674.64 1350ZM1681.75 1344.55L1687.1 1350L1681.75 1355.45L1676.4 1350ZM1682.8 1344.55L1688.15 1350L1682.8 1355.45L1677.45 1350ZM1685.12 1344.55L1690.47 1350L1685.12 1355.45L1679.77 1350ZM1686.07 1344.55L1691.42 1350L1686.07 1355.45L1680.72 1350ZM1687.03 1344.55L1692.38 1350L1687.03 1355.45L1681.68 1350ZM1688.33 1344.55L1693.68 1350L1688.33 1355.45L1682.98 1350ZM1689.52 1344.55L1694.87 1350L1689.52 1355.45L1684.17 1350ZM1690.1 1344.55L1695.45 1350L1690.1 1355.45L1684.75 1350ZM1646.9 1348.55L1652.25 1354L1646.9 1359.45L1641.55 1354ZM1647.83 1348.55L1653.18 1354L1647.83 1359.45L1642.48 1354ZM1648.63 1348.55L1653.98 1354L1648.63 1359.45L1643.28 1354ZM1649.79 1348.55L1655.14 1354L1649.79 1359.45L1644.44 1354ZM1650.83 1348.55L1656.18 1354L1650.83 1359.45L1645.48 1354ZM1652.51 1348.55L1657.86 1354L1652.51 1359.45L1647.16 1354ZM1653.37 1348.55L1658.72 1354L1653.37 1359.45L1648.02 1354ZM1656.27 1348.55L1661.62 1354L1656.27 1359.45L1650.92 1354ZM1658.54 1348.55L1663.89 1354L1658.54 1359.45L1653.19 1354ZM1659.7 1348.55L1665.05 1354L1659.7 1359.45L1654.35 1354ZM1661.1 1348.55L1666.45 1354L1661.1 1359.45L1655.75 1354ZM1662.73 1348.55L1668.08 1354L1662.73 1359.45L1657.38 1354ZM1664.41 1348.55L1669.76 1354L1664.41 1359.45L1659.06 1354ZM1665.5 1348.55L1670.85 1354L1665.5 1359.45L1660.15 1354ZM1668.34 1348.55L1673.69 1354L1668.34 1359.45L1662.99 1354ZM1671.52 1348.55L1676.87 1354L1671.52 1359.45L1666.17 1354ZM1673.44 1348.55L1678.79 1354L1673.44 1359.45L1668.09 1354ZM1675.4 1348.55L1680.75 1354L1675.4 1359.45L1670.05 1354ZM1676.41 1348.55L1681.76 1354L1676.41 1359.45L1671.06 1354ZM1677.46 1348.55L1682.81 1354L1677.46 1359.45L1672.11 1354ZM1679.08 1348.55L1684.43 1354L1679.08 1359.45L1673.73 1354ZM1680.51 1348.55L1685.86 1354L1680.51 1359.45L1675.16 1354ZM1683.3 1348.55L1688.65 1354L1683.3 1359.45L1677.95 1354ZM1684.49 1348.55L1689.84 1354L1684.49 1359.45L1679.14 1354ZM1685.35 1348.55L1690.7 1354L1685.35 1359.45L1680 1354ZM1687.1 1348.55L1692.45 1354L1687.1 1359.45L1681.75 1354ZM1646.9 1352.55L1652.25 1358L1646.9 1363.45L1641.55 1358ZM1648.97 1352.55L1654.32 1358L1648.97 1363.45L1643.62 1358ZM1650.12 1352.55L1655.47 1358L1650.12 1363.45L1644.77 1358ZM1652.22 1352.55L1657.57 1358L1652.22 1363.45L1646.87 1358ZM1653.09 1352.55L1658.44 1358L1653.09 1363.45L1647.74 1358ZM1655.16 1352.55L1660.51 1358L1655.16 1363.45L1649.81 1358ZM1658.3 1352.55L1663.65 1358L1658.3 1363.45L1652.95 1358ZM1661.18 1352.55L1666.53 1358L1661.18 1363.45L1655.83 1358ZM1663.65 1352.55L1669 1358L1663.65 1363.45L1658.3 1358ZM1665.07 1352.55L1670.42 1358L1665.07 1363.45L1659.72 1358ZM1666.75 1352.55L1672.1 1358L1666.75 1363.45L1661.4 1358ZM1667.95 1352.55L1673.3 1358L1667.95 1363.45L1662.6 1358ZM1670.61 1352.55L1675.96 1358L1670.61 1363.45L1665.26 1358ZM1672.69 1352.55L1678.04 1358L1672.69 1363.45L1667.34 1358ZM1675.36 1352.55L1680.71 1358L1675.36 1363.45L1670.01 1358ZM1676.95 1352.55L1682.3 1358L1676.95 1363.45L1671.6 1358ZM1678.28 1352.55L1683.63 1358L1678.28 1363.45L1672.93 1358ZM1681.03 1352.55L1686.38 1358L1681.03 1363.45L1675.68 1358ZM1684.19 1352.55L1689.54 1358L1684.19 1363.45L1678.84 1358ZM1686.1 1352.55L1691.45 1358L1686.1 1363.45L1680.75 1358ZM1646.9 1356.55L1652.25 1362L1646.9 1367.45L1641.55 1362ZM1649.63 1356.55L1654.98 1362L1649.63 1367.45L1644.28 1362ZM1652.4 1356.55L1657.75 1362L1652.4 1367.45L1647.05 1362ZM1654.97 1356.55L1660.32 1362L1654.97 1367.45L1649.62 1362ZM1656.32 1356.55L1661.67 1362L1656.32 1367.45L1650.97 1362ZM1658.36 1356.55L1663.71 1362L1658.36 1367.45L1653.01 1362ZM1660.01 1356.55L1665.36 1362L1660.01 1367.45L1654.66 1362ZM1660.88 1356.55L1666.23 1362L1660.88 1367.45L1655.53 1362ZM1661.75 1356.55L1667.1 1362L1661.75 1367.45L1656.4 1362ZM1663.22 1356.55L1668.57 1362L1663.22 1367.45L1657.87 1362ZM1664.64 1356.55L1669.99 1362L1664.64 1367.45L1659.29 1362ZM1667.11 1356.55L1672.46 1362L1667.11 1367.45L1661.76 1362ZM1670.2 1356.55L1675.55 1362L1670.2 1367.45L1664.85 1362ZM1672.07 1356.55L1677.42 1362L1672.07 1367.45L1666.72 1362ZM1675.12 1356.55L1680.47 1362L1675.12 1367.45L1669.77 1362ZM1678.29 1356.55L1683.64 1362L1678.29 1367.45L1672.94 1362ZM1681.39 1356.55L1686.74 1362L1681.39 1367.45L1676.04 1362ZM1683.06 1356.55L1688.41 1362L1683.06 1367.45L1677.71 1362ZM1684.39 1356.55L1689.74 1362L1684.39 1367.45L1679.04 1362ZM1685.1 1356.55L1690.45 1362L1685.1 1367.45L1679.75 1362Z"/>
<line x1="1608.84" y1="1351.53" x2="1727.56" y2="1351.53" stroke="#0A7CFF" stroke-width="3.0" stroke-linecap="round"/>
<polyline points="1668.43,1083.92 1668.44,1085.28 1668.46,1086.65 1668.47,1088.01 1668.49,1089.38 1668.51,1090.75 1668.53,1092.11 1668.55,1093.48 1668.57,1094.85 1668.59,1096.21 1668.62,1097.58 1668.64,1098.94 1668.67,1100.31 1668.7,1101.68 1668.73,1103.04 1668.76,1104.41 1668.79,1105.78 1668.83,1107.14 1668.86,1108.51 1668.9,1109.87 1668.94,1111.24 1668.99,1112.61 1669.03,1113.97 1669.08,1115.34 1669.13,1116.71 1669.18,1118.07 1669.23,1119.44 1669.29,1120.8 1669.35,1122.17 1669.41,1123.54 1669.47,1124.9 1669.54,1126.27 1669.61,1127.64 1669.69,1129 1669.76,1130.37 1669.84,1131.74 1669.93,1133.1 1670.02,1134.47 1670.11,1135.83 1670.2,1137.2 1670.3,1138.57 1670.41,1139.93 1670.52,1141.3 1670.63,1142.67 1670.75,1144.03 1670.87,1145.4 1671,1146.76 1671.13,1148.13 1671.27,1149.5 1671.41,1150.86 1671.56,1152.23 1671.71,1153.6 1671.87,1154.96 1672.04,1156.33 1672.21,1157.69 1672.38,1159.06 1672.57,1160.43 1672.76,1161.79 1672.96,1163.16 1673.16,1164.53 1673.37,1165.89 1673.59,1167.26 1673.81,1168.62 1674.05,1169.99 1674.29,1171.36 1674.53,1172.72 1674.79,1174.09 1675.05,1175.46 1675.32,1176.82 1675.6,1178.19 1675.89,1179.55 1676.18,1180.92 1676.49,1182.29 1676.8,1183.65 1677.12,1185.02 1677.45,1186.39 1677.79,1187.75 1678.14,1189.12 1678.5,1190.48 1678.86,1191.85 1679.24,1193.22 1679.62,1194.58 1680.01,1195.95 1680.42,1197.32 1680.83,1198.68 1681.25,1200.05 1681.68,1201.41 1682.12,1202.78 1682.57,1204.15 1683.03,1205.51 1683.49,1206.88 1683.97,1208.25 1684.46,1209.61 1684.95,1210.98 1685.45,1212.34 1685.97,1213.71 1686.49,1215.08 1687.02,1216.44 1687.56,1217.81 1688.1,1219.18 1688.66,1220.54 1689.22,1221.91 1689.79,1223.27 1690.37,1224.64 1690.96,1226.01 1691.55,1227.37 1692.15,1228.74 1692.76,1230.11 1693.37,1231.47 1693.99,1232.84 1694.62,1234.2 1695.25,1235.57 1695.89,1236.94 1696.53,1238.3 1697.18,1239.67 1697.83,1241.04 1698.48,1242.4 1699.14,1243.77 1699.8,1245.13 1700.47,1246.5 1701.13,1247.87 1701.8,1249.23 1702.47,1250.6 1703.14,1251.97 1703.82,1253.33 1704.49,1254.7 1705.16,1256.06 1705.83,1257.43 1706.5,1258.8 1707.17,1260.16 1707.83,1261.53 1708.5,1262.9 1709.15,1264.26 1709.81,1265.63 1710.46,1266.99 1711.11,1268.36 1711.75,1269.73 1712.38,1271.09 1713.01,1272.46 1713.63,1273.83 1714.24,1275.19 1714.85,1276.56 1715.44,1277.92 1716.03,1279.29 1716.61,1280.66 1717.17,1282.02 1717.73,1283.39 1718.27,1284.76 1718.81,1286.12 1719.33,1287.49 1719.83,1288.86 1720.33,1290.22 1720.81,1291.59 1721.27,1292.95 1721.72,1294.32 1722.16,1295.69 1722.58,1297.05 1722.99,1298.42 1723.37,1299.79 1723.74,1301.15 1724.1,1302.52 1724.43,1303.88 1724.75,1305.25 1725.05,1306.62 1725.33,1307.98 1725.6,1309.35 1725.84,1310.72 1726.06,1312.08 1726.27,1313.45 1726.45,1314.81 1726.62,1316.18 1726.76,1317.55 1726.89,1318.91 1726.99,1320.28 1727.07,1321.65 1727.13,1323.01 1727.18,1324.38 1727.2,1325.74 1727.2,1327.11 1727.18,1328.48 1727.14,1329.84 1727.07,1331.21 1726.99,1332.58 1726.89,1333.94 1726.76,1335.31 1726.62,1336.67 1726.45,1338.04 1726.27,1339.41 1726.06,1340.77 1725.84,1342.14 1725.6,1343.51 1725.33,1344.87 1725.05,1346.24 1724.75,1347.6 1724.44,1348.97 1724.1,1350.34 1723.75,1351.7 1723.37,1353.07 1722.99,1354.44 1722.58,1355.8 1722.16,1357.17" fill="none" stroke="#FF6600" stroke-width="2.5" stroke-dasharray="8 11" stroke-linecap="round" stroke-linejoin="round"/>
</g>
<text x="1733.3" y="1333.67" class="v">13.09514</text>
<text x="1733.3" y="1342.51" class="v">9.96</text>
<text x="1733.3" y="1363.24" class="v">2.61</text>
<rect x="1519.8" y="745.1" width="296.8" height="619.4" fill="none" stroke="#000" stroke-width="2.8" stroke-linejoin="miter" stroke-linecap="square"/>
<path d="M1519.8 1329.25H1525.8M1519.8 1294H1531.8M1519.8 1258.75H1525.8M1519.8 1223.5H1531.8M1519.8 1188.25H1525.8M1519.8 1153H1531.8M1519.8 1117.76H1525.8M1519.8 1082.51H1531.8M1519.8 1047.26H1525.8M1519.8 1012.01H1531.8M1519.8 976.76H1525.8M1519.8 941.51H1531.8M1519.8 906.26H1525.8M1519.8 871.01H1531.8M1519.8 835.76H1525.8M1519.8 800.51H1531.8M1519.8 765.26H1525.8M1668.2 1364.5V1376.5" stroke="#000" stroke-width="2.5" fill="none"/>
<text x="1506.6" y="1375.6" class="t">0</text>
<text x="1506.6" y="1305.1" class="t">25</text>
<text x="1506.6" y="1234.6" class="t">50</text>
<text x="1506.6" y="1164.1" class="t">75</text>
<text x="1506.6" y="1093.61" class="t">100</text>
<text x="1506.6" y="1023.11" class="t">125</text>
<text x="1506.6" y="952.61" class="t">150</text>
<text x="1506.6" y="882.11" class="t">175</text>
<text x="1506.6" y="811.61" class="t">200</text>
<text x="1438" y="1054.8" class="ti yt" transform="rotate(-90 1438 1054.8)" text-anchor="middle">Range</text>
<text x="1668.2" y="1415.9" class="ti" text-anchor="middle">Mr</text>
</svg>
</body></html>
